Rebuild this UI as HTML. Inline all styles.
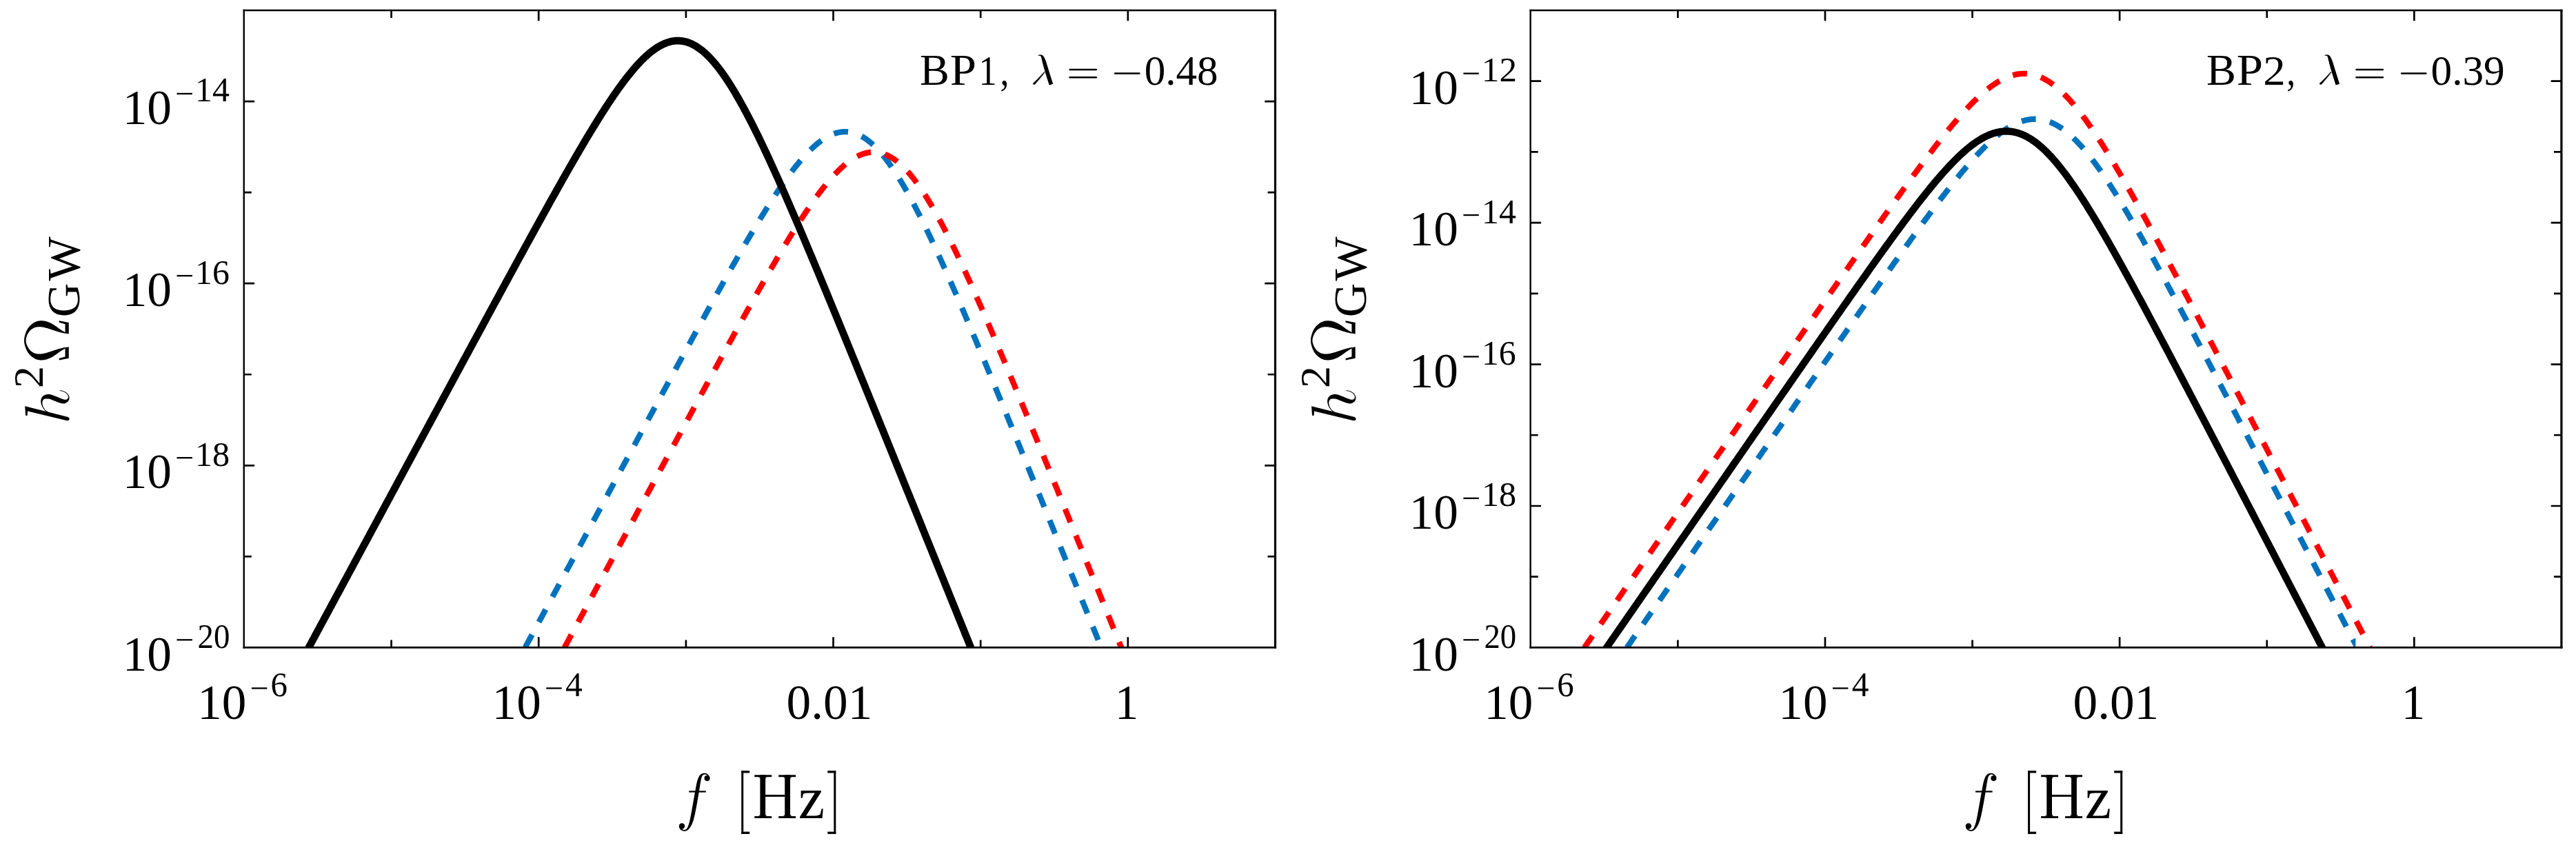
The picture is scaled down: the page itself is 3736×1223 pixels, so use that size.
<!DOCTYPE html>
<html><head><meta charset="utf-8"><title>GW spectra</title>
<style>
html,body{margin:0;padding:0;background:#fff;}
body{width:3736px;height:1223px;overflow:hidden;}
svg{display:block;}
text{font-family:"Liberation Serif",serif;fill:#000;font-kerning:none;white-space:pre;}
</style></head>
<body>
<svg width="3736" height="1223" viewBox="0 0 3736 1223">
<rect width="3736" height="1223" fill="#fff"/>
<clipPath id="c0"><rect x="353.9" y="15.0" width="1495.60" height="924.40"/></clipPath>
<g clip-path="url(#c0)" fill="none">
<path d="M761.60 939.40 L763.69 935.53 L765.78 931.65 L767.87 927.78 L769.96 923.91 L772.04 920.04 L774.13 916.16 L776.22 912.29 L778.31 908.42 L780.40 904.54 L782.49 900.67 L784.58 896.80 L786.67 892.93 L788.76 889.05 L790.84 885.18 L792.93 881.31 L795.02 877.43 L797.11 873.56 L799.20 869.69 L801.29 865.82 L803.38 861.94 L805.47 858.07 L807.56 854.20 L809.64 850.33 L811.73 846.45 L813.82 842.58 L815.91 838.71 L818.00 834.84 L820.09 830.97 L822.18 827.09 L824.27 823.22 L826.36 819.35 L828.44 815.48 L830.53 811.60 L832.62 807.73 L834.71 803.86 L836.80 799.99 L838.89 796.12 L840.98 792.25 L843.07 788.37 L845.16 784.50 L847.24 780.63 L849.33 776.76 L851.42 772.89 L853.51 769.02 L855.60 765.15 L857.69 761.28 L859.78 757.40 L861.87 753.53 L863.96 749.66 L866.04 745.79 L868.13 741.92 L870.22 738.05 L872.31 734.18 L874.40 730.31 L876.49 726.44 L878.58 722.57 L880.67 718.70 L882.76 714.83 L884.84 710.97 L886.93 707.10 L889.02 703.23 L891.11 699.36 L893.20 695.49 L895.29 691.62 L897.38 687.76 L899.47 683.89 L901.56 680.02 L903.64 676.15 L905.73 672.29 L907.82 668.42 L909.91 664.56 L912.00 660.69 L914.09 656.82 L916.18 652.96 L918.27 649.10 L920.36 645.23 L922.44 641.37 L924.53 637.50 L926.62 633.64 L928.71 629.78 L930.80 625.92 L932.89 622.06 L934.98 618.20 L937.07 614.34 L939.16 610.48 L941.24 606.62 L943.33 602.76 L945.42 598.90 L947.51 595.04 L949.60 591.19 L951.69 587.33 L953.78 583.48 L955.87 579.62 L957.96 575.77 L960.04 571.92 L962.13 568.07 L964.22 564.22 L966.31 560.37 L968.40 556.52 L970.49 552.68 L972.58 548.83 L974.67 544.99 L976.76 541.15 L978.84 537.30 L980.93 533.47 L983.02 529.63 L985.11 525.79 L987.20 521.96 L989.29 518.12 L991.38 514.29 L993.47 510.46 L995.56 506.64 L997.64 502.81 L999.73 498.99 L1001.82 495.17 L1003.91 491.35 L1006.00 487.53 L1008.09 483.72 L1010.18 479.91 L1012.27 476.10 L1014.36 472.30 L1016.44 468.50 L1018.53 464.70 L1020.62 460.91 L1022.71 457.12 L1024.80 453.33 L1026.89 449.55 L1028.98 445.77 L1031.07 441.99 L1033.16 438.22 L1035.24 434.46 L1037.33 430.70 L1039.42 426.94 L1041.51 423.19 L1043.60 419.45 L1045.69 415.71 L1047.78 411.98 L1049.87 408.25 L1051.96 404.53 L1054.04 400.82 L1056.13 397.11 L1058.22 393.42 L1060.31 389.73 L1062.40 386.04 L1064.49 382.37 L1066.58 378.71 L1068.67 375.05 L1070.75 371.41 L1072.84 367.78 L1074.93 364.15 L1077.02 360.54 L1079.11 356.94 L1081.20 353.35 L1083.29 349.77 L1085.38 346.21 L1087.47 342.66 L1089.55 339.13 L1091.64 335.61 L1093.73 332.11 L1095.82 328.62 L1097.91 325.15 L1100.00 321.69 L1102.09 318.26 L1104.18 314.84 L1106.27 311.45 L1108.35 308.08 L1110.44 304.72 L1112.53 301.39 L1114.62 298.09 L1116.71 294.80 L1118.80 291.55 L1120.89 288.32 L1122.98 285.11 L1125.07 281.94 L1127.15 278.79 L1129.24 275.68 L1131.33 272.59 L1133.42 269.54 L1135.51 266.53 L1137.60 263.55 L1139.69 260.61 L1141.78 257.70 L1143.87 254.84 L1145.95 252.01 L1148.04 249.23 L1150.13 246.50 L1152.22 243.80 L1154.31 241.16 L1156.40 238.56 L1158.49 236.02 L1160.58 233.52 L1162.67 231.08 L1164.75 228.70 L1166.84 226.37 L1168.93 224.10 L1171.02 221.89 L1173.11 219.74 L1175.20 217.65 L1177.29 215.63 L1179.38 213.68 L1181.47 211.80 L1183.55 209.99 L1185.64 208.25 L1187.73 206.58 L1189.82 204.99 L1191.91 203.48 L1194.00 202.05 L1196.09 200.70 L1198.18 199.43 L1200.27 198.25 L1202.35 197.15 L1204.44 196.14 L1206.53 195.21 L1208.62 194.38 L1210.71 193.64 L1212.80 192.99 L1214.89 192.44 L1216.98 191.98 L1219.07 191.62 L1221.15 191.35 L1223.24 191.19 L1225.33 191.12 L1227.42 191.15 L1229.51 191.28 L1231.60 191.51 L1233.69 191.84 L1235.78 192.28 L1237.87 192.81 L1239.95 193.45 L1242.04 194.19 L1244.13 195.03 L1246.22 195.97 L1248.31 197.01 L1250.40 198.16 L1252.49 199.40 L1254.58 200.75 L1256.67 202.19 L1258.75 203.73 L1260.84 205.37 L1262.93 207.10 L1265.02 208.93 L1267.11 210.86 L1269.20 212.87 L1271.29 214.98 L1273.38 217.18 L1275.47 219.47 L1277.55 221.84 L1279.64 224.31 L1281.73 226.85 L1283.82 229.48 L1285.91 232.19 L1288.00 234.98 L1290.09 237.85 L1292.18 240.79 L1294.27 243.81 L1296.35 246.90 L1298.44 250.07 L1300.53 253.30 L1302.62 256.60 L1304.71 259.96 L1306.80 263.39 L1308.89 266.88 L1310.98 270.44 L1313.07 274.05 L1315.15 277.71 L1317.24 281.44 L1319.33 285.21 L1321.42 289.04 L1323.51 292.92 L1325.60 296.85 L1327.69 300.83 L1329.78 304.85 L1331.87 308.91 L1333.95 313.02 L1336.04 317.17 L1338.13 321.36 L1340.22 325.59 L1342.31 329.85 L1344.40 334.15 L1346.49 338.49 L1348.58 342.86 L1350.67 347.26 L1352.75 351.69 L1354.84 356.15 L1356.93 360.64 L1359.02 365.16 L1361.11 369.70 L1363.20 374.27 L1365.29 378.87 L1367.38 383.48 L1369.47 388.12 L1371.55 392.79 L1373.64 397.47 L1375.73 402.17 L1377.82 406.89 L1379.91 411.64 L1382.00 416.39 L1384.09 421.17 L1386.18 425.96 L1388.27 430.77 L1390.35 435.59 L1392.44 440.43 L1394.53 445.28 L1396.62 450.15 L1398.71 455.02 L1400.80 459.91 L1402.89 464.82 L1404.98 469.73 L1407.07 474.65 L1409.15 479.59 L1411.24 484.53 L1413.33 489.48 L1415.42 494.45 L1417.51 499.42 L1419.60 504.40 L1421.69 509.38 L1423.78 514.38 L1425.87 519.38 L1427.95 524.39 L1430.04 529.41 L1432.13 534.43 L1434.22 539.46 L1436.31 544.49 L1438.40 549.53 L1440.49 554.58 L1442.58 559.63 L1444.67 564.68 L1446.75 569.75 L1448.84 574.81 L1450.93 579.88 L1453.02 584.95 L1455.11 590.03 L1457.20 595.11 L1459.29 600.20 L1461.38 605.28 L1463.47 610.38 L1465.55 615.47 L1467.64 620.57 L1469.73 625.67 L1471.82 630.77 L1473.91 635.88 L1476.00 640.99 L1478.09 646.10 L1480.18 651.21 L1482.27 656.33 L1484.35 661.45 L1486.44 666.57 L1488.53 671.69 L1490.62 676.81 L1492.71 681.94 L1494.80 687.06 L1496.89 692.19 L1498.98 697.32 L1501.07 702.46 L1503.15 707.59 L1505.24 712.72 L1507.33 717.86 L1509.42 723.00 L1511.51 728.14 L1513.60 733.28 L1515.69 738.42 L1517.78 743.56 L1519.87 748.70 L1521.95 753.84 L1524.04 758.99 L1526.13 764.13 L1528.22 769.28 L1530.31 774.43 L1532.40 779.57 L1534.49 784.72 L1536.58 789.87 L1538.67 795.02 L1540.75 800.17 L1542.84 805.32 L1544.93 810.48 L1547.02 815.63 L1549.11 820.78 L1551.20 825.93 L1553.29 831.09 L1555.38 836.24 L1557.47 841.40 L1559.55 846.55 L1561.64 851.71 L1563.73 856.86 L1565.82 862.02 L1567.91 867.18 L1570.00 872.33 L1572.09 877.49 L1574.18 882.65 L1576.27 887.81 L1578.35 892.97 L1580.44 898.12 L1582.53 903.28 L1584.62 908.44 L1586.71 913.60 L1588.80 918.76 L1590.89 923.92 L1592.98 929.08 L1595.07 934.24 L1597.15 939.40" stroke="#0072bd" stroke-width="8.3" stroke-dasharray="20.9 20.755" stroke-dashoffset="41.45" stroke-linejoin="round"/>
<path d="M818.65 939.40 L820.67 935.66 L822.69 931.91 L824.71 928.17 L826.73 924.43 L828.74 920.68 L830.76 916.94 L832.78 913.20 L834.80 909.45 L836.82 905.71 L838.84 901.97 L840.86 898.23 L842.88 894.48 L844.90 890.74 L846.92 887.00 L848.93 883.25 L850.95 879.51 L852.97 875.77 L854.99 872.03 L857.01 868.28 L859.03 864.54 L861.05 860.80 L863.07 857.05 L865.09 853.31 L867.11 849.57 L869.12 845.83 L871.14 842.08 L873.16 838.34 L875.18 834.60 L877.20 830.86 L879.22 827.12 L881.24 823.37 L883.26 819.63 L885.28 815.89 L887.30 812.15 L889.31 808.41 L891.33 804.66 L893.35 800.92 L895.37 797.18 L897.39 793.44 L899.41 789.70 L901.43 785.96 L903.45 782.22 L905.47 778.47 L907.49 774.73 L909.50 770.99 L911.52 767.25 L913.54 763.51 L915.56 759.77 L917.58 756.03 L919.60 752.29 L921.62 748.55 L923.64 744.81 L925.66 741.07 L927.67 737.33 L929.69 733.59 L931.71 729.85 L933.73 726.12 L935.75 722.38 L937.77 718.64 L939.79 714.90 L941.81 711.16 L943.83 707.43 L945.85 703.69 L947.86 699.95 L949.88 696.21 L951.90 692.48 L953.92 688.74 L955.94 685.01 L957.96 681.27 L959.98 677.54 L962.00 673.80 L964.02 670.07 L966.04 666.33 L968.05 662.60 L970.07 658.87 L972.09 655.13 L974.11 651.40 L976.13 647.67 L978.15 643.94 L980.17 640.21 L982.19 636.48 L984.21 632.75 L986.23 629.02 L988.24 625.29 L990.26 621.57 L992.28 617.84 L994.30 614.11 L996.32 610.39 L998.34 606.67 L1000.36 602.94 L1002.38 599.22 L1004.40 595.50 L1006.42 591.78 L1008.43 588.06 L1010.45 584.34 L1012.47 580.62 L1014.49 576.91 L1016.51 573.19 L1018.53 569.48 L1020.55 565.77 L1022.57 562.06 L1024.59 558.35 L1026.60 554.64 L1028.62 550.93 L1030.64 547.23 L1032.66 543.53 L1034.68 539.83 L1036.70 536.13 L1038.72 532.43 L1040.74 528.74 L1042.76 525.04 L1044.78 521.35 L1046.79 517.66 L1048.81 513.98 L1050.83 510.30 L1052.85 506.61 L1054.87 502.94 L1056.89 499.26 L1058.91 495.59 L1060.93 491.92 L1062.95 488.26 L1064.97 484.60 L1066.98 480.94 L1069.00 477.28 L1071.02 473.63 L1073.04 469.99 L1075.06 466.34 L1077.08 462.71 L1079.10 459.07 L1081.12 455.45 L1083.14 451.82 L1085.16 448.20 L1087.17 444.59 L1089.19 440.99 L1091.21 437.39 L1093.23 433.79 L1095.25 430.20 L1097.27 426.62 L1099.29 423.05 L1101.31 419.48 L1103.33 415.92 L1105.35 412.37 L1107.36 408.83 L1109.38 405.30 L1111.40 401.77 L1113.42 398.26 L1115.44 394.75 L1117.46 391.26 L1119.48 387.78 L1121.50 384.30 L1123.52 380.84 L1125.53 377.39 L1127.55 373.96 L1129.57 370.53 L1131.59 367.12 L1133.61 363.73 L1135.63 360.35 L1137.65 356.98 L1139.67 353.64 L1141.69 350.30 L1143.71 346.99 L1145.72 343.69 L1147.74 340.42 L1149.76 337.16 L1151.78 333.92 L1153.80 330.70 L1155.82 327.51 L1157.84 324.34 L1159.86 321.19 L1161.88 318.07 L1163.90 314.97 L1165.91 311.90 L1167.93 308.85 L1169.95 305.84 L1171.97 302.85 L1173.99 299.90 L1176.01 296.98 L1178.03 294.09 L1180.05 291.23 L1182.07 288.41 L1184.09 285.62 L1186.10 282.88 L1188.12 280.17 L1190.14 277.50 L1192.16 274.88 L1194.18 272.30 L1196.20 269.76 L1198.22 267.27 L1200.24 264.82 L1202.26 262.43 L1204.28 260.08 L1206.29 257.79 L1208.31 255.55 L1210.33 253.37 L1212.35 251.24 L1214.37 249.17 L1216.39 247.16 L1218.41 245.21 L1220.43 243.32 L1222.45 241.50 L1224.46 239.74 L1226.48 238.06 L1228.50 236.44 L1230.52 234.89 L1232.54 233.41 L1234.56 232.01 L1236.58 230.68 L1238.60 229.43 L1240.62 228.26 L1242.64 227.17 L1244.65 226.16 L1246.67 225.23 L1248.69 224.39 L1250.71 223.63 L1252.73 222.95 L1254.75 222.37 L1256.77 221.87 L1258.79 221.46 L1260.81 221.14 L1262.83 220.91 L1264.84 220.77 L1266.86 220.73 L1268.88 220.78 L1270.90 220.92 L1272.92 221.16 L1274.94 221.49 L1276.96 221.92 L1278.98 222.44 L1281.00 223.05 L1283.02 223.76 L1285.03 224.57 L1287.05 225.47 L1289.07 226.47 L1291.09 227.56 L1293.11 228.74 L1295.13 230.01 L1297.15 231.38 L1299.17 232.84 L1301.19 234.40 L1303.21 236.04 L1305.22 237.77 L1307.24 239.59 L1309.26 241.50 L1311.28 243.49 L1313.30 245.57 L1315.32 247.73 L1317.34 249.98 L1319.36 252.30 L1321.38 254.71 L1323.39 257.20 L1325.41 259.76 L1327.43 262.40 L1329.45 265.11 L1331.47 267.89 L1333.49 270.75 L1335.51 273.67 L1337.53 276.66 L1339.55 279.72 L1341.57 282.85 L1343.58 286.03 L1345.60 289.28 L1347.62 292.59 L1349.64 295.95 L1351.66 299.38 L1353.68 302.86 L1355.70 306.39 L1357.72 309.97 L1359.74 313.61 L1361.76 317.29 L1363.77 321.02 L1365.79 324.80 L1367.81 328.62 L1369.83 332.49 L1371.85 336.40 L1373.87 340.35 L1375.89 344.33 L1377.91 348.36 L1379.93 352.42 L1381.95 356.52 L1383.96 360.65 L1385.98 364.82 L1388.00 369.02 L1390.02 373.24 L1392.04 377.50 L1394.06 381.79 L1396.08 386.10 L1398.10 390.44 L1400.12 394.81 L1402.14 399.20 L1404.15 403.62 L1406.17 408.06 L1408.19 412.52 L1410.21 417.00 L1412.23 421.50 L1414.25 426.02 L1416.27 430.57 L1418.29 435.13 L1420.31 439.70 L1422.32 444.30 L1424.34 448.91 L1426.36 453.53 L1428.38 458.17 L1430.40 462.83 L1432.42 467.50 L1434.44 472.18 L1436.46 476.87 L1438.48 481.58 L1440.50 486.30 L1442.51 491.03 L1444.53 495.77 L1446.55 500.52 L1448.57 505.28 L1450.59 510.05 L1452.61 514.83 L1454.63 519.62 L1456.65 524.42 L1458.67 529.22 L1460.69 534.03 L1462.70 538.85 L1464.72 543.68 L1466.74 548.52 L1468.76 553.36 L1470.78 558.21 L1472.80 563.06 L1474.82 567.92 L1476.84 572.78 L1478.86 577.65 L1480.88 582.53 L1482.89 587.41 L1484.91 592.29 L1486.93 597.18 L1488.95 602.08 L1490.97 606.97 L1492.99 611.87 L1495.01 616.78 L1497.03 621.69 L1499.05 626.60 L1501.07 631.52 L1503.08 636.44 L1505.10 641.36 L1507.12 646.28 L1509.14 651.21 L1511.16 656.14 L1513.18 661.07 L1515.20 666.01 L1517.22 670.95 L1519.24 675.89 L1521.25 680.83 L1523.27 685.78 L1525.29 690.72 L1527.31 695.67 L1529.33 700.62 L1531.35 705.57 L1533.37 710.53 L1535.39 715.48 L1537.41 720.44 L1539.43 725.40 L1541.44 730.36 L1543.46 735.32 L1545.48 740.28 L1547.50 745.24 L1549.52 750.21 L1551.54 755.17 L1553.56 760.14 L1555.58 765.11 L1557.60 770.08 L1559.62 775.05 L1561.63 780.02 L1563.65 784.99 L1565.67 789.96 L1567.69 794.94 L1569.71 799.91 L1571.73 804.89 L1573.75 809.86 L1575.77 814.84 L1577.79 819.82 L1579.81 824.79 L1581.82 829.77 L1583.84 834.75 L1585.86 839.73 L1587.88 844.71 L1589.90 849.69 L1591.92 854.67 L1593.94 859.65 L1595.96 864.63 L1597.98 869.62 L1600.00 874.60 L1602.01 879.58 L1604.03 884.56 L1606.05 889.55 L1608.07 894.53 L1610.09 899.52 L1612.11 904.50 L1614.13 909.49 L1616.15 914.47 L1618.17 919.46 L1620.18 924.44 L1622.20 929.43 L1624.22 934.41 L1626.24 939.40" stroke="#ff0000" stroke-width="8.3" stroke-dasharray="20.9 20.755" stroke-dashoffset="41.45" stroke-linejoin="round"/>
<path d="M430.71 971.09 L433.19 966.48 L435.68 961.87 L438.17 957.26 L440.65 952.66 L443.14 948.05 L445.62 943.44 L448.11 938.83 L450.59 934.22 L453.08 929.61 L455.57 925.00 L458.05 920.39 L460.54 915.78 L463.02 911.17 L465.51 906.56 L468.00 901.95 L470.48 897.34 L472.97 892.73 L475.45 888.12 L477.94 883.51 L480.43 878.91 L482.91 874.30 L485.40 869.69 L487.88 865.08 L490.37 860.47 L492.86 855.86 L495.34 851.25 L497.83 846.64 L500.31 842.03 L502.80 837.42 L505.28 832.81 L507.77 828.20 L510.26 823.59 L512.74 818.99 L515.23 814.38 L517.71 809.77 L520.20 805.16 L522.69 800.55 L525.17 795.94 L527.66 791.33 L530.14 786.72 L532.63 782.11 L535.12 777.50 L537.60 772.89 L540.09 768.29 L542.57 763.68 L545.06 759.07 L547.55 754.46 L550.03 749.85 L552.52 745.24 L555.00 740.63 L557.49 736.02 L559.98 731.42 L562.46 726.81 L564.95 722.20 L567.43 717.59 L569.92 712.98 L572.40 708.37 L574.89 703.76 L577.38 699.16 L579.86 694.55 L582.35 689.94 L584.83 685.33 L587.32 680.72 L589.81 676.12 L592.29 671.51 L594.78 666.90 L597.26 662.29 L599.75 657.69 L602.24 653.08 L604.72 648.47 L607.21 643.86 L609.69 639.26 L612.18 634.65 L614.67 630.04 L617.15 625.44 L619.64 620.83 L622.12 616.22 L624.61 611.62 L627.09 607.01 L629.58 602.41 L632.07 597.80 L634.55 593.20 L637.04 588.59 L639.52 583.99 L642.01 579.38 L644.50 574.78 L646.98 570.17 L649.47 565.57 L651.95 560.97 L654.44 556.36 L656.93 551.76 L659.41 547.16 L661.90 542.56 L664.38 537.96 L666.87 533.36 L669.36 528.76 L671.84 524.16 L674.33 519.56 L676.81 514.96 L679.30 510.36 L681.79 505.76 L684.27 501.16 L686.76 496.57 L689.24 491.97 L691.73 487.38 L694.21 482.78 L696.70 478.19 L699.19 473.60 L701.67 469.01 L704.16 464.42 L706.64 459.83 L709.13 455.24 L711.62 450.65 L714.10 446.07 L716.59 441.48 L719.07 436.90 L721.56 432.32 L724.05 427.74 L726.53 423.16 L729.02 418.58 L731.50 414.01 L733.99 409.43 L736.48 404.86 L738.96 400.29 L741.45 395.73 L743.93 391.16 L746.42 386.60 L748.90 382.04 L751.39 377.49 L753.88 372.93 L756.36 368.38 L758.85 363.83 L761.33 359.29 L763.82 354.75 L766.31 350.21 L768.79 345.68 L771.28 341.15 L773.76 336.63 L776.25 332.11 L778.74 327.59 L781.22 323.08 L783.71 318.58 L786.19 314.08 L788.68 309.59 L791.17 305.11 L793.65 300.63 L796.14 296.15 L798.62 291.69 L801.11 287.23 L803.59 282.79 L806.08 278.35 L808.57 273.92 L811.05 269.50 L813.54 265.09 L816.02 260.69 L818.51 256.30 L821.00 251.92 L823.48 247.56 L825.97 243.21 L828.45 238.87 L830.94 234.55 L833.43 230.24 L835.91 225.95 L838.40 221.68 L840.88 217.42 L843.37 213.19 L845.86 208.97 L848.34 204.77 L850.83 200.60 L853.31 196.45 L855.80 192.32 L858.29 188.22 L860.77 184.14 L863.26 180.10 L865.74 176.08 L868.23 172.09 L870.71 168.13 L873.20 164.21 L875.69 160.33 L878.17 156.48 L880.66 152.67 L883.14 148.89 L885.63 145.17 L888.12 141.48 L890.60 137.85 L893.09 134.26 L895.57 130.72 L898.06 127.23 L900.55 123.80 L903.03 120.43 L905.52 117.12 L908.00 113.87 L910.49 110.68 L912.98 107.56 L915.46 104.51 L917.95 101.54 L920.43 98.64 L922.92 95.82 L925.40 93.08 L927.89 90.42 L930.38 87.85 L932.86 85.38 L935.35 82.99 L937.83 80.70 L940.32 78.51 L942.81 76.42 L945.29 74.44 L947.78 72.56 L950.26 70.80 L952.75 69.15 L955.24 67.61 L957.72 66.20 L960.21 64.90 L962.69 63.73 L965.18 62.69 L967.67 61.77 L970.15 60.99 L972.64 60.34 L975.12 59.82 L977.61 59.44 L980.10 59.20 L982.58 59.10 L985.07 59.14 L987.55 59.32 L990.04 59.64 L992.52 60.11 L995.01 60.72 L997.50 61.47 L999.98 62.37 L1002.47 63.42 L1004.95 64.60 L1007.44 65.93 L1009.93 67.40 L1012.41 69.02 L1014.90 70.77 L1017.38 72.66 L1019.87 74.69 L1022.36 76.85 L1024.84 79.15 L1027.33 81.57 L1029.81 84.13 L1032.30 86.81 L1034.79 89.62 L1037.27 92.55 L1039.76 95.60 L1042.24 98.77 L1044.73 102.05 L1047.21 105.44 L1049.70 108.94 L1052.19 112.55 L1054.67 116.26 L1057.16 120.07 L1059.64 123.97 L1062.13 127.97 L1064.62 132.06 L1067.10 136.23 L1069.59 140.50 L1072.07 144.84 L1074.56 149.26 L1077.05 153.76 L1079.53 158.33 L1082.02 162.97 L1084.50 167.68 L1086.99 172.46 L1089.48 177.30 L1091.96 182.19 L1094.45 187.15 L1096.93 192.16 L1099.42 197.23 L1101.90 202.34 L1104.39 207.51 L1106.88 212.72 L1109.36 217.98 L1111.85 223.28 L1114.33 228.62 L1116.82 234.00 L1119.31 239.41 L1121.79 244.86 L1124.28 250.35 L1126.76 255.87 L1129.25 261.42 L1131.74 267.00 L1134.22 272.60 L1136.71 278.24 L1139.19 283.90 L1141.68 289.58 L1144.17 295.29 L1146.65 301.02 L1149.14 306.77 L1151.62 312.54 L1154.11 318.32 L1156.60 324.13 L1159.08 329.95 L1161.57 335.79 L1164.05 341.65 L1166.54 347.52 L1169.02 353.41 L1171.51 359.30 L1174.00 365.21 L1176.48 371.14 L1178.97 377.07 L1181.45 383.01 L1183.94 388.97 L1186.43 394.93 L1188.91 400.91 L1191.40 406.89 L1193.88 412.88 L1196.37 418.88 L1198.86 424.89 L1201.34 430.90 L1203.83 436.92 L1206.31 442.95 L1208.80 448.99 L1211.29 455.02 L1213.77 461.07 L1216.26 467.12 L1218.74 473.17 L1221.23 479.23 L1223.71 485.30 L1226.20 491.37 L1228.69 497.44 L1231.17 503.52 L1233.66 509.60 L1236.14 515.68 L1238.63 521.76 L1241.12 527.85 L1243.60 533.95 L1246.09 540.04 L1248.57 546.14 L1251.06 552.24 L1253.55 558.34 L1256.03 564.45 L1258.52 570.56 L1261.00 576.66 L1263.49 582.78 L1265.98 588.89 L1268.46 595.00 L1270.95 601.12 L1273.43 607.24 L1275.92 613.36 L1278.41 619.48 L1280.89 625.60 L1283.38 631.72 L1285.86 637.85 L1288.35 643.97 L1290.83 650.10 L1293.32 656.23 L1295.81 662.36 L1298.29 668.49 L1300.78 674.62 L1303.26 680.75 L1305.75 686.88 L1308.24 693.01 L1310.72 699.14 L1313.21 705.28 L1315.69 711.41 L1318.18 717.55 L1320.67 723.68 L1323.15 729.82 L1325.64 735.96 L1328.12 742.09 L1330.61 748.23 L1333.10 754.37 L1335.58 760.51 L1338.07 766.65 L1340.55 772.79 L1343.04 778.93 L1345.52 785.07 L1348.01 791.21 L1350.50 797.35 L1352.98 803.49 L1355.47 809.63 L1357.95 815.77 L1360.44 821.91 L1362.93 828.06 L1365.41 834.20 L1367.90 840.34 L1370.38 846.48 L1372.87 852.62 L1375.36 858.77 L1377.84 864.91 L1380.33 871.05 L1382.81 877.20 L1385.30 883.34 L1387.79 889.48 L1390.27 895.63 L1392.76 901.77 L1395.24 907.92 L1397.73 914.06 L1400.22 920.20 L1402.70 926.35 L1405.19 932.49 L1407.67 938.64 L1410.16 944.78 L1412.64 950.93 L1415.13 957.07 L1417.62 963.22 L1420.10 969.36 L1422.59 975.50 L1425.07 981.65" stroke="#000" stroke-width="10.7" stroke-linejoin="round"/>
</g>
<path d="M353.75 13.83V940.83" stroke="#000" stroke-width="2.4" fill="none"/>
<path d="M1849.50 13.83V940.83" stroke="#000" stroke-width="3.2" fill="none"/>
<path d="M352.55 15.05H1851.10" stroke="#000" stroke-width="2.45" fill="none"/>
<path d="M352.55 939.35H1851.10" stroke="#000" stroke-width="2.95" fill="none"/>
<path d="M567.56 939.4 v-10.9 M567.56 15.0 v10.9 M781.21 939.4 v-15.2 M781.21 15.0 v15.2 M994.87 939.4 v-10.9 M994.87 15.0 v10.9 M1208.53 939.4 v-15.2 M1208.53 15.0 v15.2 M1422.19 939.4 v-10.9 M1422.19 15.0 v10.9 M1635.84 939.4 v-15.2 M1635.84 15.0 v15.2 M353.9 807.34 h10.9 M1849.5 807.34 h-10.9 M353.9 675.29 h15.2 M1849.5 675.29 h-15.2 M353.9 543.23 h10.9 M1849.5 543.23 h-10.9 M353.9 411.17 h15.2 M1849.5 411.17 h-15.2 M353.9 279.11 h10.9 M1849.5 279.11 h-10.9 M353.9 147.06 h15.2 M1849.5 147.06 h-15.2" stroke="#000" stroke-width="2.7" fill="none"/>
<text transform="translate(177.63,180.26) scale(0.9964,1.0000)" font-size="71.65">10</text>
<rect x="256.50" y="134.81" width="22.40" height="2.30"/>
<text transform="translate(283.01,147.46) scale(0.9789,1.0000)" font-size="51.05">14</text>
<text transform="translate(177.63,444.37) scale(0.9964,1.0000)" font-size="71.65">10</text>
<rect x="256.50" y="398.92" width="22.40" height="2.30"/>
<text transform="translate(283.03,411.57) scale(0.9747,1.0000)" font-size="51.05">16</text>
<text transform="translate(177.63,708.49) scale(0.9964,1.0000)" font-size="71.65">10</text>
<rect x="256.50" y="663.04" width="22.40" height="2.30"/>
<text transform="translate(282.99,675.69) scale(0.9839,1.0000)" font-size="51.05">18</text>
<text transform="translate(177.63,972.60) scale(0.9964,1.0000)" font-size="71.65">10</text>
<rect x="256.50" y="927.15" width="22.40" height="2.30"/>
<text transform="translate(286.54,939.80) scale(0.9176,1.0000)" font-size="51.05">20</text>
<text transform="translate(286.25,1042.80) scale(0.9932,1.0000)" font-size="71.65">10</text>
<rect x="364.90" y="997.35" width="22.40" height="2.30"/>
<text transform="translate(392.40,1010.00) scale(0.9583,1.0000)" font-size="51.05">6</text>
<text transform="translate(713.56,1042.80) scale(0.9932,1.0000)" font-size="71.65">10</text>
<rect x="792.21" y="997.35" width="22.40" height="2.30"/>
<text transform="translate(820.05,1010.00) scale(0.9693,1.0000)" font-size="51.05">4</text>
<text transform="translate(1140.58,1042.60) scale(0.9953,1.0000)" font-size="71.65">0.01</text>
<text transform="translate(1616.73,1042.60) scale(0.9634,1.0000)" font-size="71.65">1</text>
<path d="M1029.27 1127.40 L1029.16 1127.23 L1029.03 1127.02 L1028.88 1126.76 L1028.71 1126.45 L1028.51 1126.11 L1028.30 1125.74 L1028.07 1125.36 L1027.83 1124.97 L1027.57 1124.59 L1027.30 1124.21 L1027.00 1123.84 L1026.69 1123.50 L1026.36 1123.19 L1026.00 1122.92 L1025.64 1122.70 L1025.28 1122.51 L1024.89 1122.34 L1024.50 1122.19 L1024.09 1122.06 L1023.67 1121.95 L1023.25 1121.85 L1022.82 1121.78 L1022.39 1121.72 L1021.96 1121.69 L1021.52 1121.67 L1021.09 1121.68 L1020.67 1121.71 L1020.25 1121.77 L1019.86 1121.84 L1019.46 1121.92 L1019.07 1122.03 L1018.66 1122.15 L1018.26 1122.30 L1017.85 1122.48 L1017.44 1122.68 L1017.03 1122.92 L1016.63 1123.19 L1016.23 1123.49 L1015.84 1123.83 L1015.46 1124.21 L1015.09 1124.62 L1014.74 1125.07 L1014.41 1125.54 L1014.09 1126.04 L1013.79 1126.56 L1013.50 1127.10 L1013.22 1127.67 L1012.96 1128.26 L1012.70 1128.87 L1012.45 1129.50 L1012.21 1130.16 L1011.97 1130.84 L1011.73 1131.55 L1011.50 1132.28 L1011.28 1133.04 L1011.05 1133.84 L1010.82 1134.68 L1010.60 1135.56 L1010.39 1136.47 L1010.19 1137.40 L1009.99 1138.36 L1009.80 1139.34 L1009.60 1140.35 L1009.41 1141.38 L1009.22 1142.43 L1009.03 1143.50 L1008.84 1144.58 L1008.64 1145.68 L1008.43 1146.80 L1008.22 1147.93 L1008.00 1149.10 L1007.78 1150.31 L1007.55 1151.55 L1007.32 1152.82 L1007.08 1154.12 L1006.85 1155.43 L1006.61 1156.76 L1006.37 1158.10 L1006.13 1159.45 L1005.89 1160.80 L1005.65 1162.14 L1005.41 1163.48 L1005.17 1164.80 L1004.94 1166.11 L1004.70 1167.43 L1004.46 1168.77 L1004.22 1170.14 L1003.98 1171.52 L1003.73 1172.90 L1003.49 1174.28 L1003.25 1175.65 L1003.01 1177.00 L1002.78 1178.32 L1002.54 1179.61 L1002.32 1180.85 L1002.09 1182.04 L1001.87 1183.17 L1001.66 1184.24 L1001.46 1185.26 L1001.26 1186.24 L1001.07 1187.16 L1000.89 1188.05 L1000.71 1188.89 L1000.53 1189.70 L1000.36 1190.48 L1000.19 1191.22 L1000.01 1191.94 L999.84 1192.63 L999.66 1193.30 L999.48 1193.96 L999.29 1194.61 L999.09 1195.24 L998.89 1195.87 L998.69 1196.48 L998.48 1197.07 L998.27 1197.65 L998.05 1198.22 L997.83 1198.76 L997.61 1199.28 L997.39 1199.78 L997.16 1200.26 L996.93 1200.71 L996.69 1201.13 L996.46 1201.53 L996.22 1201.89 L995.98 1202.21 L995.75 1202.49 L995.52 1202.73 L995.29 1202.95 L995.06 1203.13 L994.82 1203.29 L994.58 1203.43 L994.34 1203.55 L994.09 1203.65 L993.83 1203.73 L993.57 1203.80 L993.31 1203.85 L993.03 1203.89 L992.75 1203.92 L992.48 1203.95 L992.21 1203.96 L991.94 1203.95 L991.65 1203.92 L991.35 1203.87 L991.04 1203.80 L990.73 1203.71 L990.42 1203.61 L990.11 1203.49 L989.81 1203.37 L989.52 1203.23 L989.24 1203.09 L988.97 1202.94 L988.73 1202.79 L988.51 1202.64 L988.32 1202.50 L988.14 1202.32 L987.96 1202.12 L987.77 1201.89 L987.60 1201.64 L987.42 1201.38 L987.26 1201.11 L987.10 1200.84 L986.95 1200.58 L986.81 1200.32 L986.68 1200.08 L986.56 1199.86 L986.44 1199.66 L986.33 1199.50 L984.93 1200.42 L985.01 1200.54 L985.10 1200.69 L985.21 1200.90 L985.34 1201.13 L985.49 1201.39 L985.65 1201.68 L985.83 1201.97 L986.02 1202.28 L986.22 1202.59 L986.44 1202.90 L986.68 1203.20 L986.94 1203.49 L987.22 1203.76 L987.51 1204.00 L987.81 1204.20 L988.11 1204.39 L988.43 1204.57 L988.77 1204.75 L989.11 1204.92 L989.47 1205.07 L989.84 1205.22 L990.21 1205.35 L990.59 1205.47 L990.97 1205.57 L991.36 1205.65 L991.75 1205.72 L992.13 1205.76 L992.51 1205.77 L992.86 1205.77 L993.21 1205.75 L993.56 1205.72 L993.92 1205.68 L994.29 1205.61 L994.65 1205.53 L995.03 1205.42 L995.40 1205.29 L995.78 1205.13 L996.16 1204.94 L996.54 1204.72 L996.92 1204.47 L997.31 1204.18 L997.69 1203.87 L998.07 1203.53 L998.45 1203.17 L998.83 1202.78 L999.22 1202.37 L999.61 1201.93 L1000.01 1201.46 L1000.40 1200.97 L1000.79 1200.45 L1001.18 1199.90 L1001.56 1199.34 L1001.93 1198.74 L1002.29 1198.13 L1002.64 1197.49 L1002.98 1196.83 L1003.30 1196.16 L1003.61 1195.47 L1003.91 1194.78 L1004.20 1194.06 L1004.48 1193.33 L1004.76 1192.57 L1005.02 1191.79 L1005.29 1190.99 L1005.55 1190.15 L1005.81 1189.28 L1006.06 1188.38 L1006.32 1187.44 L1006.59 1186.45 L1006.85 1185.42 L1007.13 1184.32 L1007.40 1183.16 L1007.67 1181.94 L1007.95 1180.68 L1008.22 1179.37 L1008.49 1178.04 L1008.77 1176.68 L1009.04 1175.31 L1009.30 1173.93 L1009.57 1172.54 L1009.83 1171.16 L1010.08 1169.80 L1010.34 1168.46 L1010.58 1167.14 L1010.83 1165.83 L1011.07 1164.50 L1011.31 1163.15 L1011.55 1161.80 L1011.79 1160.45 L1012.02 1159.10 L1012.25 1157.75 L1012.48 1156.42 L1012.70 1155.10 L1012.92 1153.80 L1013.13 1152.53 L1013.34 1151.29 L1013.54 1150.08 L1013.74 1148.90 L1013.93 1147.75 L1014.11 1146.61 L1014.29 1145.49 L1014.46 1144.40 L1014.62 1143.32 L1014.78 1142.27 L1014.93 1141.25 L1015.08 1140.26 L1015.23 1139.30 L1015.37 1138.36 L1015.52 1137.47 L1015.66 1136.61 L1015.81 1135.78 L1015.96 1134.99 L1016.10 1134.21 L1016.25 1133.46 L1016.38 1132.75 L1016.51 1132.06 L1016.64 1131.41 L1016.77 1130.79 L1016.89 1130.21 L1017.02 1129.65 L1017.15 1129.13 L1017.28 1128.63 L1017.42 1128.17 L1017.56 1127.73 L1017.71 1127.33 L1017.86 1126.95 L1018.02 1126.60 L1018.18 1126.28 L1018.35 1125.97 L1018.52 1125.69 L1018.70 1125.43 L1018.89 1125.19 L1019.09 1124.96 L1019.29 1124.75 L1019.51 1124.55 L1019.74 1124.37 L1019.98 1124.20 L1020.23 1124.05 L1020.49 1123.92 L1020.76 1123.81 L1021.02 1123.72 L1021.30 1123.65 L1021.61 1123.60 L1021.93 1123.58 L1022.26 1123.58 L1022.60 1123.59 L1022.94 1123.63 L1023.28 1123.69 L1023.62 1123.76 L1023.95 1123.85 L1024.27 1123.96 L1024.57 1124.08 L1024.85 1124.20 L1025.09 1124.33 L1025.31 1124.48 L1025.54 1124.68 L1025.78 1124.92 L1026.02 1125.20 L1026.27 1125.52 L1026.50 1125.85 L1026.73 1126.20 L1026.95 1126.55 L1027.16 1126.90 L1027.35 1127.23 L1027.53 1127.54 L1027.70 1127.82 L1027.86 1128.07 L1027.99 1128.26Z"/>
<path d="M1021.48 1129.09a4.06 4.06 0 1 0 8.12 0a4.06 4.06 0 1 0 -8.12 0Z"/>
<path d="M984.79 1198.56a4.20 4.20 0 1 0 8.40 0a4.20 4.20 0 1 0 -8.40 0Z"/>
<path d="M999.22 1147.30H1023.73V1149.54H999.22Z"/>
<rect x="1102.40" y="1124.30" width="7.70" height="62.70"/>
<rect x="1094.30" y="1124.30" width="24.90" height="2.90"/>
<rect x="1094.30" y="1184.10" width="24.90" height="2.90"/>
<path d="M1099.20 1127.20Q1102.40 1127.20 1102.40 1131.20V1127.20Z"/>
<path d="M1113.30 1127.20Q1110.10 1127.20 1110.10 1131.20V1127.20Z"/>
<path d="M1099.20 1184.10Q1102.40 1184.10 1102.40 1180.10V1184.10Z"/>
<path d="M1113.30 1184.10Q1110.10 1184.10 1110.10 1180.10V1184.10Z"/>
<rect x="1138.20" y="1124.30" width="7.80" height="62.70"/>
<rect x="1129.20" y="1124.30" width="24.90" height="2.90"/>
<rect x="1129.20" y="1184.10" width="24.90" height="2.90"/>
<path d="M1135.00 1127.20Q1138.20 1127.20 1138.20 1131.20V1127.20Z"/>
<path d="M1149.20 1127.20Q1146.00 1127.20 1146.00 1131.20V1127.20Z"/>
<path d="M1135.00 1184.10Q1138.20 1184.10 1138.20 1180.10V1184.10Z"/>
<path d="M1149.20 1184.10Q1146.00 1184.10 1146.00 1180.10V1184.10Z"/>
<rect x="1110.00" y="1153.00" width="28.30" height="2.90"/>
<text transform="translate(1157.78,1187.10) scale(0.9982,1.0000)" font-size="86.50">z</text>
<rect x="1075.20" y="1118.10" width="3.00" height="91.80"/>
<rect x="1075.20" y="1118.10" width="12.00" height="3.30"/>
<rect x="1075.20" y="1206.60" width="12.00" height="3.30"/>
<rect x="1209.30" y="1118.10" width="3.00" height="91.80"/>
<rect x="1200.30" y="1118.10" width="12.00" height="3.30"/>
<rect x="1200.30" y="1206.60" width="12.00" height="3.30"/>
<path d="M71.98 598.75 L71.76 598.63 L71.48 598.49 L71.16 598.34 L70.81 598.17 L70.43 597.98 L70.03 597.78 L69.61 597.57 L69.18 597.35 L68.75 597.12 L68.33 596.87 L67.92 596.62 L67.54 596.37 L67.18 596.11 L66.86 595.84 L66.55 595.56 L66.25 595.27 L65.94 594.95 L65.65 594.63 L65.36 594.29 L65.07 593.94 L64.79 593.59 L64.52 593.23 L64.26 592.86 L64.01 592.49 L63.77 592.12 L63.55 591.75 L63.33 591.39 L63.14 591.03 L62.95 590.67 L62.78 590.31 L62.61 589.94 L62.46 589.57 L62.32 589.20 L62.19 588.83 L62.06 588.45 L61.95 588.08 L61.85 587.71 L61.76 587.34 L61.68 586.98 L61.61 586.62 L61.55 586.27 L61.50 585.92 L61.46 585.59 L61.42 585.26 L61.40 584.93 L61.39 584.62 L61.38 584.30 L61.39 584.00 L61.40 583.70 L61.43 583.41 L61.47 583.12 L61.51 582.84 L61.57 582.57 L61.64 582.31 L61.72 582.06 L61.81 581.81 L61.92 581.55 L62.04 581.30 L62.16 581.05 L62.30 580.81 L62.44 580.58 L62.60 580.35 L62.76 580.14 L62.92 579.94 L63.09 579.76 L63.27 579.59 L63.44 579.44 L63.61 579.31 L63.79 579.20 L63.96 579.11 L64.14 579.02 L64.34 578.93 L64.55 578.85 L64.77 578.78 L65.00 578.71 L65.24 578.65 L65.48 578.60 L65.73 578.55 L65.98 578.52 L66.23 578.48 L66.49 578.45 L66.75 578.43 L67.01 578.42 L67.28 578.40 L67.57 578.39 L67.86 578.38 L68.16 578.38 L68.46 578.38 L68.76 578.38 L69.08 578.40 L69.39 578.42 L69.71 578.44 L70.04 578.48 L70.37 578.52 L70.71 578.57 L71.05 578.64 L71.40 578.71 L71.74 578.79 L72.08 578.88 L72.45 578.99 L72.84 579.12 L73.27 579.27 L73.72 579.44 L74.19 579.62 L74.67 579.81 L75.17 580.01 L75.69 580.22 L76.21 580.44 L76.74 580.66 L77.28 580.88 L77.83 581.10 L78.36 581.30 L78.86 581.50 L79.36 581.70 L79.86 581.90 L80.38 582.11 L80.90 582.33 L81.42 582.55 L81.95 582.77 L82.49 582.99 L83.02 583.21 L83.56 583.42 L84.10 583.62 L84.64 583.81 L85.18 584.00 L85.69 584.16 L86.17 584.30 L86.63 584.44 L87.09 584.58 L87.56 584.72 L88.03 584.85 L88.51 584.98 L88.99 585.09 L89.48 585.20 L89.98 585.29 L90.48 585.37 L91.00 585.43 L91.52 585.46 L92.05 585.47 L92.58 585.45 L93.10 585.39 L93.60 585.30 L94.08 585.19 L94.55 585.05 L95.00 584.88 L95.44 584.70 L95.85 584.50 L96.25 584.29 L96.63 584.06 L96.99 583.82 L97.33 583.57 L97.66 583.32 L97.96 583.05 L98.26 582.78 L98.55 582.49 L98.82 582.19 L99.06 581.87 L99.29 581.54 L99.49 581.21 L99.67 580.88 L99.83 580.54 L99.98 580.20 L100.11 579.86 L100.22 579.53 L100.31 579.19 L100.39 578.86 L100.46 578.53 L100.50 578.20 L100.54 577.87 L100.55 577.54 L100.55 577.21 L100.53 576.89 L100.50 576.56 L100.46 576.24 L100.40 575.93 L100.33 575.61 L100.26 575.30 L100.17 574.99 L100.07 574.69 L99.96 574.39 L99.84 574.10 L99.71 573.81 L99.58 573.53 L99.43 573.25 L99.27 572.96 L99.11 572.68 L98.93 572.40 L98.74 572.13 L98.54 571.85 L98.33 571.58 L98.12 571.31 L97.89 571.05 L97.65 570.80 L97.40 570.55 L97.15 570.30 L96.88 570.07 L96.60 569.84 L96.30 569.62 L96.00 569.40 L95.68 569.19 L95.35 568.99 L95.02 568.79 L94.67 568.59 L94.32 568.40 L93.97 568.22 L93.61 568.04 L93.25 567.87 L92.89 567.71 L92.53 567.56 L92.16 567.41 L91.77 567.26 L91.36 567.12 L90.93 566.99 L90.48 566.86 L90.03 566.74 L89.58 566.63 L89.13 566.52 L88.70 566.42 L88.28 566.33 L87.90 566.25 L87.54 566.17 L87.23 566.10 L86.96 566.04 L86.74 565.98 L86.54 566.81 L86.76 566.86 L87.03 566.93 L87.35 567.00 L87.71 567.09 L88.09 567.18 L88.50 567.27 L88.93 567.38 L89.36 567.49 L89.80 567.60 L90.24 567.72 L90.67 567.85 L91.08 567.98 L91.46 568.12 L91.82 568.25 L92.17 568.40 L92.51 568.55 L92.86 568.71 L93.21 568.88 L93.55 569.05 L93.89 569.23 L94.22 569.41 L94.54 569.60 L94.85 569.79 L95.16 569.99 L95.45 570.19 L95.73 570.39 L95.99 570.60 L96.24 570.81 L96.47 571.03 L96.70 571.25 L96.92 571.48 L97.13 571.72 L97.33 571.96 L97.52 572.21 L97.71 572.45 L97.87 572.71 L98.03 572.96 L98.18 573.22 L98.31 573.48 L98.43 573.74 L98.53 573.99 L98.62 574.25 L98.70 574.50 L98.77 574.77 L98.83 575.03 L98.88 575.30 L98.91 575.56 L98.94 575.83 L98.95 576.09 L98.94 576.35 L98.92 576.60 L98.89 576.84 L98.84 577.07 L98.78 577.29 L98.71 577.50 L98.61 577.69 L98.51 577.88 L98.38 578.07 L98.24 578.25 L98.09 578.44 L97.92 578.61 L97.74 578.78 L97.56 578.94 L97.36 579.08 L97.16 579.21 L96.96 579.33 L96.76 579.43 L96.56 579.51 L96.36 579.58 L96.16 579.63 L95.95 579.68 L95.71 579.73 L95.47 579.76 L95.22 579.79 L94.96 579.81 L94.70 579.82 L94.44 579.81 L94.18 579.80 L93.92 579.78 L93.66 579.76 L93.41 579.72 L93.17 579.68 L92.93 579.63 L92.70 579.58 L92.48 579.52 L92.25 579.45 L91.99 579.37 L91.71 579.28 L91.41 579.18 L91.09 579.07 L90.75 578.95 L90.38 578.82 L90.00 578.68 L89.60 578.53 L89.18 578.37 L88.75 578.20 L88.29 578.03 L87.85 577.86 L87.42 577.70 L86.99 577.53 L86.54 577.34 L86.07 577.15 L85.58 576.95 L85.08 576.74 L84.57 576.52 L84.05 576.30 L83.52 576.07 L82.99 575.85 L82.44 575.62 L81.90 575.40 L81.35 575.18 L80.82 574.98 L80.32 574.78 L79.82 574.58 L79.31 574.38 L78.79 574.16 L78.25 573.94 L77.71 573.72 L77.16 573.50 L76.60 573.29 L76.03 573.08 L75.45 572.89 L74.87 572.70 L74.28 572.54 L73.68 572.39 L73.09 572.27 L72.51 572.18 L71.96 572.11 L71.41 572.07 L70.88 572.04 L70.35 572.02 L69.83 572.03 L69.32 572.06 L68.82 572.10 L68.33 572.15 L67.86 572.23 L67.39 572.31 L66.94 572.41 L66.50 572.53 L66.06 572.66 L65.63 572.81 L65.20 572.97 L64.78 573.16 L64.37 573.36 L63.97 573.58 L63.59 573.81 L63.22 574.06 L62.86 574.32 L62.52 574.59 L62.19 574.88 L61.88 575.17 L61.58 575.48 L61.30 575.80 L61.03 576.13 L60.78 576.48 L60.55 576.84 L60.34 577.21 L60.16 577.58 L60.00 577.95 L59.86 578.32 L59.74 578.70 L59.63 579.07 L59.54 579.45 L59.46 579.82 L59.40 580.18 L59.34 580.55 L59.30 580.91 L59.26 581.26 L59.24 581.62 L59.22 581.98 L59.22 582.34 L59.23 582.70 L59.25 583.06 L59.28 583.42 L59.32 583.77 L59.36 584.13 L59.42 584.49 L59.49 584.84 L59.56 585.20 L59.65 585.56 L59.74 585.92 L59.84 586.28 L59.95 586.64 L60.06 587.01 L60.18 587.39 L60.31 587.77 L60.45 588.15 L60.60 588.54 L60.76 588.93 L60.92 589.32 L61.10 589.71 L61.28 590.10 L61.48 590.48 L61.68 590.86 L61.89 591.24 L62.12 591.62 L62.35 591.98 L62.60 592.36 L62.85 592.73 L63.12 593.11 L63.39 593.49 L63.67 593.86 L63.97 594.23 L64.27 594.60 L64.58 594.96 L64.89 595.31 L65.22 595.65 L65.55 595.98 L65.88 596.29 L66.23 596.59 L66.59 596.88 L66.99 597.16 L67.41 597.43 L67.85 597.69 L68.30 597.94 L68.74 598.18 L69.19 598.41 L69.62 598.62 L70.03 598.82 L70.41 599.00 L70.77 599.17 L71.08 599.32 L71.34 599.44 L71.55 599.55Z"/>
<path d="M36.20 589.36 L98.52 605.02 L100.34 606.46 L100.73 608.42 L99.43 610.11 L97.21 610.24 L40.11 596.41 L39.66 602.41 L38.35 603.20 L37.05 602.41Z"/>
<text transform="translate(0.00,0.00) rotate(-90) translate(-562.91,62.20) scale(1.0466,1.0000)" font-size="61.02">2</text>
<path d="M95.19 482.55 L94.87 482.36 L94.46 482.13 L94.00 481.86 L93.48 481.56 L92.91 481.23 L92.31 480.88 L91.68 480.52 L91.03 480.14 L90.38 479.75 L89.72 479.36 L89.08 478.97 L88.46 478.58 L87.87 478.21 L87.32 477.85 L86.80 477.50 L86.28 477.13 L85.76 476.76 L85.25 476.38 L84.74 476.00 L84.22 475.61 L83.71 475.22 L83.19 474.83 L82.66 474.43 L82.13 474.04 L81.59 473.65 L81.04 473.27 L80.48 472.89 L79.92 472.53 L79.38 472.18 L78.85 471.83 L78.31 471.48 L77.76 471.14 L77.21 470.79 L76.65 470.44 L76.08 470.10 L75.50 469.76 L74.91 469.43 L74.31 469.11 L73.70 468.79 L73.08 468.49 L72.45 468.19 L71.82 467.92 L71.21 467.67 L70.62 467.43 L70.01 467.20 L69.39 466.98 L68.77 466.76 L68.14 466.56 L67.50 466.37 L66.85 466.19 L66.19 466.02 L65.53 465.87 L64.85 465.73 L64.17 465.61 L63.48 465.51 L62.80 465.43 L62.13 465.38 L61.47 465.33 L60.80 465.31 L60.13 465.29 L59.45 465.29 L58.77 465.32 L58.09 465.35 L57.40 465.41 L56.71 465.49 L56.02 465.59 L55.33 465.71 L54.65 465.86 L53.96 466.03 L53.29 466.23 L52.63 466.45 L51.99 466.70 L51.36 466.97 L50.74 467.26 L50.13 467.58 L49.53 467.91 L48.95 468.26 L48.38 468.62 L47.83 468.99 L47.29 469.38 L46.76 469.77 L46.24 470.18 L45.74 470.59 L45.24 471.01 L44.76 471.44 L44.29 471.88 L43.83 472.34 L43.38 472.80 L42.95 473.28 L42.52 473.76 L42.11 474.25 L41.71 474.75 L41.32 475.26 L40.95 475.78 L40.59 476.30 L40.24 476.83 L39.90 477.36 L39.57 477.91 L39.26 478.47 L38.95 479.04 L38.66 479.62 L38.38 480.21 L38.12 480.81 L37.86 481.41 L37.62 482.01 L37.39 482.62 L37.17 483.22 L36.97 483.82 L36.77 484.41 L36.58 484.99 L36.41 485.57 L36.25 486.13 L36.10 486.69 L35.95 487.24 L35.82 487.80 L35.69 488.35 L35.57 488.90 L35.47 489.45 L35.37 490.00 L35.29 490.55 L35.21 491.10 L35.15 491.65 L35.10 492.21 L35.07 492.76 L35.05 493.31 L35.04 493.87 L35.05 494.43 L35.07 494.98 L35.10 495.54 L35.15 496.09 L35.21 496.64 L35.29 497.19 L35.37 497.74 L35.47 498.29 L35.57 498.84 L35.69 499.39 L35.82 499.94 L35.95 500.50 L36.10 501.05 L36.25 501.61 L36.41 502.17 L36.58 502.75 L36.77 503.33 L36.97 503.93 L37.17 504.52 L37.39 505.12 L37.62 505.73 L37.86 506.33 L38.12 506.93 L38.38 507.53 L38.66 508.12 L38.95 508.70 L39.26 509.28 L39.57 509.83 L39.90 510.38 L40.24 510.91 L40.59 511.44 L40.95 511.96 L41.32 512.48 L41.71 512.99 L42.11 513.49 L42.52 513.98 L42.95 514.47 L43.38 514.94 L43.83 515.41 L44.29 515.86 L44.76 516.30 L45.24 516.73 L45.74 517.15 L46.24 517.56 L46.76 517.97 L47.29 518.36 L47.83 518.75 L48.38 519.12 L48.95 519.49 L49.53 519.83 L50.13 520.16 L50.74 520.48 L51.36 520.77 L51.99 521.04 L52.63 521.29 L53.29 521.51 L53.96 521.71 L54.65 521.88 L55.33 522.03 L56.02 522.15 L56.71 522.25 L57.40 522.33 L58.09 522.39 L58.77 522.43 L59.45 522.45 L60.13 522.45 L60.80 522.44 L61.47 522.41 L62.13 522.37 L62.80 522.31 L63.48 522.23 L64.17 522.13 L64.85 522.01 L65.53 521.87 L66.19 521.72 L66.85 521.56 L67.50 521.38 L68.14 521.18 L68.77 520.98 L69.39 520.76 L70.01 520.54 L70.62 520.31 L71.21 520.07 L71.82 519.82 L72.45 519.55 L73.08 519.25 L73.70 518.95 L74.31 518.63 L74.91 518.31 L75.50 517.98 L76.08 517.64 L76.65 517.30 L77.21 516.95 L77.76 516.61 L78.31 516.26 L78.85 515.91 L79.38 515.56 L79.92 515.22 L80.48 514.85 L81.04 514.47 L81.59 514.09 L82.13 513.70 L82.66 513.31 L83.19 512.92 L83.71 512.52 L84.22 512.13 L84.74 511.74 L85.25 511.36 L85.76 510.98 L86.28 510.61 L86.80 510.25 L87.32 509.89 L87.87 509.54 L88.46 509.16 L89.08 508.78 L89.72 508.38 L90.38 507.99 L91.03 507.60 L91.68 507.22 L92.31 506.86 L92.91 506.51 L93.48 506.18 L94.00 505.88 L94.46 505.61 L94.87 505.38 L95.19 505.19 L94.65 503.84 L94.28 503.93 L93.84 504.04 L93.32 504.16 L92.73 504.29 L92.09 504.44 L91.41 504.60 L90.70 504.77 L89.96 504.95 L89.21 505.13 L88.45 505.32 L87.71 505.51 L86.97 505.70 L86.26 505.89 L85.59 506.07 L84.93 506.26 L84.28 506.46 L83.63 506.65 L82.98 506.85 L82.35 507.05 L81.71 507.26 L81.08 507.46 L80.46 507.66 L79.84 507.86 L79.23 508.05 L78.63 508.25 L78.03 508.44 L77.45 508.63 L76.85 508.82 L76.24 509.02 L75.62 509.23 L75.01 509.44 L74.40 509.65 L73.80 509.86 L73.21 510.06 L72.63 510.26 L72.06 510.46 L71.49 510.65 L70.94 510.83 L70.40 511.00 L69.87 511.17 L69.35 511.32 L68.82 511.47 L68.28 511.62 L67.73 511.78 L67.18 511.93 L66.64 512.08 L66.11 512.23 L65.59 512.36 L65.08 512.50 L64.58 512.62 L64.08 512.73 L63.60 512.84 L63.12 512.94 L62.65 513.03 L62.19 513.11 L61.72 513.18 L61.23 513.24 L60.73 513.30 L60.23 513.36 L59.73 513.41 L59.24 513.45 L58.75 513.49 L58.26 513.52 L57.79 513.54 L57.32 513.55 L56.86 513.56 L56.40 513.55 L55.96 513.54 L55.53 513.52 L55.10 513.49 L54.66 513.44 L54.21 513.39 L53.76 513.33 L53.29 513.26 L52.82 513.17 L52.35 513.07 L51.87 512.96 L51.40 512.84 L50.92 512.70 L50.45 512.55 L49.98 512.39 L49.52 512.21 L49.07 512.02 L48.63 511.82 L48.19 511.60 L47.76 511.36 L47.34 511.11 L46.91 510.84 L46.49 510.56 L46.07 510.26 L45.66 509.95 L45.26 509.62 L44.86 509.28 L44.47 508.93 L44.09 508.57 L43.72 508.20 L43.35 507.81 L43.01 507.42 L42.67 507.02 L42.34 506.60 L42.02 506.16 L41.70 505.70 L41.39 505.22 L41.09 504.73 L40.80 504.23 L40.51 503.72 L40.24 503.21 L39.98 502.69 L39.74 502.17 L39.50 501.66 L39.28 501.15 L39.07 500.65 L38.88 500.15 L38.69 499.66 L38.52 499.17 L38.36 498.68 L38.21 498.20 L38.08 497.71 L37.96 497.23 L37.85 496.75 L37.76 496.27 L37.68 495.79 L37.62 495.31 L37.58 494.83 L37.55 494.35 L37.54 493.87 L37.55 493.39 L37.58 492.91 L37.62 492.43 L37.68 491.96 L37.76 491.48 L37.85 490.99 L37.96 490.51 L38.08 490.03 L38.21 489.55 L38.36 489.06 L38.52 488.57 L38.69 488.08 L38.88 487.59 L39.07 487.09 L39.28 486.59 L39.50 486.08 L39.74 485.57 L39.98 485.05 L40.24 484.53 L40.51 484.02 L40.80 483.51 L41.09 483.01 L41.39 482.52 L41.70 482.04 L42.02 481.58 L42.34 481.14 L42.67 480.72 L43.01 480.32 L43.35 479.93 L43.72 479.55 L44.09 479.17 L44.47 478.81 L44.86 478.46 L45.26 478.12 L45.66 477.79 L46.07 477.48 L46.49 477.18 L46.91 476.90 L47.34 476.63 L47.76 476.38 L48.19 476.14 L48.63 475.93 L49.07 475.72 L49.52 475.53 L49.98 475.35 L50.45 475.19 L50.92 475.04 L51.40 474.90 L51.87 474.78 L52.35 474.67 L52.82 474.57 L53.29 474.49 L53.76 474.41 L54.21 474.35 L54.66 474.30 L55.10 474.25 L55.53 474.22 L55.96 474.20 L56.40 474.19 L56.86 474.18 L57.32 474.19 L57.79 474.20 L58.26 474.22 L58.75 474.25 L59.24 474.29 L59.73 474.33 L60.23 474.38 L60.73 474.44 L61.23 474.50 L61.72 474.57 L62.19 474.64 L62.65 474.71 L63.12 474.80 L63.60 474.90 L64.08 475.01 L64.58 475.12 L65.08 475.25 L65.59 475.38 L66.11 475.52 L66.64 475.66 L67.18 475.81 L67.73 475.96 L68.28 476.12 L68.82 476.27 L69.35 476.42 L69.87 476.58 L70.40 476.74 L70.94 476.91 L71.49 477.10 L72.06 477.28 L72.63 477.48 L73.21 477.68 L73.80 477.89 L74.40 478.09 L75.01 478.30 L75.62 478.51 L76.24 478.72 L76.85 478.93 L77.45 479.11 L78.03 479.30 L78.63 479.49 L79.23 479.69 L79.84 479.89 L80.46 480.08 L81.08 480.29 L81.71 480.49 L82.35 480.69 L82.98 480.89 L83.63 481.09 L84.28 481.28 L84.93 481.48 L85.59 481.67 L86.26 481.86 L86.97 482.05 L87.71 482.24 L88.45 482.42 L89.21 482.61 L89.96 482.79 L90.70 482.97 L91.41 483.14 L92.09 483.30 L92.73 483.45 L93.32 483.58 L93.84 483.71 L94.28 483.81 L94.65 483.90Z"/>
<path d="M99.76 468.06 L99.76 484.60 L94.52 483.55 L94.52 470.32 L85.65 467.74 L85.65 465.32Z"/>
<path d="M99.76 519.68 L99.76 503.15 L94.52 504.19 L94.52 517.42 L85.65 520.00 L85.65 522.42Z"/>
<text transform="translate(0.00,0.00) rotate(-90) translate(-460.32,115.00) scale(1.0188,1.0000)" font-size="67.51">G</text>
<text transform="translate(0.00,0.00) rotate(-90) translate(-407.47,115.00) scale(1.0153,1.0000)" font-size="66.89">W</text>
<text transform="translate(1334.05,122.60) scale(1.0146,1.0000)" font-size="63.38">B</text>
<text transform="translate(1377.82,122.60) scale(1.0847,1.0000)" font-size="63.38">P</text>
<text transform="translate(1419.58,122.60) scale(0.8545,1.0000)" font-size="61.50">1</text>
<text transform="translate(1450.43,122.60) scale(0.8323,1.0000)" font-size="62.12">,</text>
<path d="M1505.88 80.96 L1506.01 80.95 L1506.18 80.93 L1506.36 80.91 L1506.55 80.88 L1506.76 80.84 L1506.98 80.81 L1507.20 80.79 L1507.43 80.77 L1507.65 80.76 L1507.87 80.77 L1508.07 80.79 L1508.25 80.82 L1508.41 80.88 L1508.54 80.95 L1508.70 81.04 L1508.87 81.14 L1509.03 81.25 L1509.17 81.37 L1509.30 81.49 L1509.41 81.62 L1509.51 81.75 L1509.60 81.89 L1509.68 82.04 L1509.75 82.19 L1509.82 82.35 L1509.89 82.53 L1509.95 82.72 L1510.03 82.93 L1510.10 83.17 L1510.18 83.44 L1510.26 83.73 L1510.35 84.06 L1510.43 84.42 L1510.52 84.79 L1510.61 85.19 L1510.70 85.62 L1510.80 86.06 L1510.90 86.52 L1511.01 87.00 L1511.13 87.50 L1511.25 88.01 L1511.38 88.52 L1511.51 89.03 L1511.64 89.56 L1511.78 90.11 L1511.92 90.67 L1512.07 91.26 L1512.22 91.86 L1512.37 92.48 L1512.53 93.11 L1512.69 93.75 L1512.86 94.40 L1513.04 95.07 L1513.21 95.74 L1513.40 96.41 L1513.58 97.09 L1513.77 97.77 L1513.97 98.47 L1514.17 99.17 L1514.38 99.89 L1514.59 100.62 L1514.81 101.35 L1515.02 102.09 L1515.24 102.83 L1515.47 103.57 L1515.69 104.31 L1515.91 105.05 L1516.13 105.78 L1516.35 106.50 L1516.57 107.22 L1516.79 107.93 L1517.01 108.65 L1517.23 109.37 L1517.46 110.09 L1517.69 110.81 L1517.92 111.53 L1518.14 112.24 L1518.37 112.94 L1518.59 113.63 L1518.80 114.30 L1519.01 114.96 L1519.22 115.60 L1519.41 116.22 L1519.60 116.81 L1519.78 117.39 L1519.97 117.98 L1520.15 118.56 L1520.33 119.14 L1520.51 119.70 L1520.68 120.25 L1520.84 120.78 L1521.00 121.29 L1521.15 121.76 L1521.29 122.20 L1521.42 122.61 L1521.53 122.97 L1521.63 123.29 L1521.71 123.56 L1527.20 121.84 L1527.11 121.58 L1527.01 121.26 L1526.90 120.89 L1526.77 120.49 L1526.63 120.05 L1526.49 119.57 L1526.33 119.06 L1526.16 118.54 L1525.99 117.99 L1525.81 117.42 L1525.63 116.84 L1525.45 116.26 L1525.26 115.67 L1525.08 115.08 L1524.89 114.49 L1524.69 113.86 L1524.49 113.22 L1524.28 112.56 L1524.07 111.88 L1523.85 111.19 L1523.62 110.50 L1523.40 109.79 L1523.17 109.08 L1522.95 108.36 L1522.72 107.65 L1522.50 106.93 L1522.28 106.23 L1522.06 105.53 L1521.84 104.82 L1521.62 104.11 L1521.40 103.39 L1521.18 102.65 L1520.96 101.92 L1520.74 101.18 L1520.52 100.45 L1520.30 99.71 L1520.08 98.98 L1519.86 98.26 L1519.64 97.55 L1519.42 96.85 L1519.21 96.16 L1519.00 95.49 L1518.79 94.84 L1518.59 94.19 L1518.39 93.54 L1518.19 92.89 L1517.99 92.25 L1517.80 91.62 L1517.60 90.99 L1517.40 90.37 L1517.20 89.76 L1517.00 89.17 L1516.80 88.58 L1516.59 88.01 L1516.38 87.45 L1516.16 86.92 L1515.95 86.42 L1515.74 85.94 L1515.52 85.46 L1515.31 85.00 L1515.09 84.54 L1514.86 84.09 L1514.64 83.66 L1514.41 83.24 L1514.17 82.83 L1513.93 82.44 L1513.68 82.06 L1513.42 81.70 L1513.16 81.35 L1512.88 81.02 L1512.59 80.72 L1512.29 80.46 L1511.98 80.23 L1511.67 80.03 L1511.36 79.86 L1511.05 79.73 L1510.74 79.63 L1510.45 79.55 L1510.17 79.49 L1509.90 79.45 L1509.64 79.43 L1509.40 79.41 L1509.16 79.40 L1508.92 79.38 L1508.63 79.36 L1508.34 79.37 L1508.05 79.40 L1507.78 79.44 L1507.51 79.49 L1507.24 79.55 L1506.99 79.61 L1506.75 79.67 L1506.52 79.74 L1506.31 79.80 L1506.13 79.86 L1505.97 79.90 L1505.84 79.94 L1505.73 79.96Z"/>
<path d="M1514.62 103.97 L1514.46 104.14 L1514.26 104.35 L1514.04 104.60 L1513.79 104.87 L1513.52 105.17 L1513.23 105.48 L1512.92 105.82 L1512.60 106.17 L1512.27 106.53 L1511.94 106.89 L1511.60 107.26 L1511.26 107.62 L1510.93 107.98 L1510.60 108.33 L1510.27 108.69 L1509.93 109.05 L1509.58 109.42 L1509.23 109.80 L1508.86 110.19 L1508.50 110.58 L1508.13 110.97 L1507.76 111.37 L1507.38 111.76 L1507.01 112.15 L1506.64 112.54 L1506.27 112.92 L1505.91 113.29 L1505.55 113.66 L1505.19 114.02 L1504.82 114.39 L1504.44 114.77 L1504.05 115.15 L1503.67 115.52 L1503.28 115.90 L1502.90 116.27 L1502.53 116.63 L1502.16 116.98 L1501.81 117.31 L1501.48 117.63 L1501.17 117.93 L1500.87 118.22 L1500.61 118.47 L1500.37 118.70 L1500.15 118.92 L1499.95 119.11 L1499.77 119.29 L1499.60 119.46 L1499.45 119.61 L1499.31 119.74 L1499.18 119.87 L1499.07 119.98 L1498.97 120.08 L1498.87 120.18 L1498.78 120.26 L1498.70 120.34 L1498.63 120.41 L1500.89 122.57 L1500.96 122.49 L1501.03 122.41 L1501.11 122.32 L1501.20 122.22 L1501.30 122.11 L1501.41 121.99 L1501.53 121.86 L1501.66 121.71 L1501.80 121.55 L1501.96 121.37 L1502.13 121.17 L1502.32 120.96 L1502.52 120.73 L1502.74 120.48 L1502.97 120.21 L1503.24 119.90 L1503.52 119.58 L1503.82 119.23 L1504.14 118.86 L1504.48 118.48 L1504.82 118.09 L1505.17 117.68 L1505.53 117.27 L1505.88 116.86 L1506.24 116.44 L1506.59 116.03 L1506.93 115.62 L1507.27 115.21 L1507.60 114.81 L1507.94 114.40 L1508.28 113.99 L1508.62 113.57 L1508.96 113.14 L1509.31 112.72 L1509.65 112.29 L1509.98 111.87 L1510.32 111.45 L1510.65 111.03 L1510.97 110.62 L1511.29 110.22 L1511.60 109.83 L1511.90 109.45 L1512.20 109.07 L1512.50 108.68 L1512.81 108.28 L1513.12 107.89 L1513.42 107.50 L1513.72 107.11 L1514.01 106.73 L1514.29 106.37 L1514.55 106.03 L1514.80 105.71 L1515.02 105.42 L1515.22 105.16 L1515.40 104.93 L1515.54 104.74Z"/>
<path d="M1498.20 121.29a1.56 1.56 0 1 0 3.12 0a1.56 1.56 0 1 0 -3.12 0Z"/>
<path d="M1551.60 100.9H1589.90" stroke="#000" stroke-width="2.5" stroke-linecap="round" fill="none"/>
<path d="M1551.60 112.2H1589.90" stroke="#000" stroke-width="2.5" stroke-linecap="round" fill="none"/>
<path d="M1617.20 106.6H1652.40" stroke="#000" stroke-width="2.5" stroke-linecap="round" fill="none"/>
<text transform="translate(1659.67,122.60) scale(0.9938,1.0000)" font-size="61.50">0.48</text>
<clipPath id="c1"><rect x="2219.8" y="15.0" width="1495.10" height="924.40"/></clipPath>
<g clip-path="url(#c1)" fill="none">
<clipPath id="x1blue"><rect x="2219.8" y="15.0" width="1196.60" height="924.40"/></clipPath>
<path d="M2359.50 939.40 L2362.15 935.58 L2364.80 931.76 L2367.44 927.94 L2370.09 924.12 L2372.74 920.30 L2375.39 916.48 L2378.04 912.66 L2380.69 908.84 L2383.33 905.02 L2385.98 901.20 L2388.63 897.37 L2391.28 893.55 L2393.93 889.73 L2396.58 885.91 L2399.22 882.09 L2401.87 878.27 L2404.52 874.45 L2407.17 870.63 L2409.82 866.81 L2412.46 862.99 L2415.11 859.17 L2417.76 855.35 L2420.41 851.53 L2423.06 847.71 L2425.71 843.89 L2428.35 840.07 L2431.00 836.25 L2433.65 832.43 L2436.30 828.61 L2438.95 824.79 L2441.59 820.97 L2444.24 817.15 L2446.89 813.33 L2449.54 809.50 L2452.19 805.68 L2454.84 801.86 L2457.48 798.04 L2460.13 794.22 L2462.78 790.40 L2465.43 786.58 L2468.08 782.76 L2470.73 778.94 L2473.37 775.12 L2476.02 771.30 L2478.67 767.48 L2481.32 763.66 L2483.97 759.84 L2486.61 756.02 L2489.26 752.20 L2491.91 748.38 L2494.56 744.56 L2497.21 740.74 L2499.86 736.92 L2502.50 733.10 L2505.15 729.28 L2507.80 725.46 L2510.45 721.64 L2513.10 717.82 L2515.75 714.00 L2518.39 710.18 L2521.04 706.36 L2523.69 702.54 L2526.34 698.72 L2528.99 694.90 L2531.63 691.08 L2534.28 687.26 L2536.93 683.44 L2539.58 679.62 L2542.23 675.80 L2544.88 671.98 L2547.52 668.16 L2550.17 664.34 L2552.82 660.52 L2555.47 656.71 L2558.12 652.89 L2560.76 649.07 L2563.41 645.25 L2566.06 641.43 L2568.71 637.61 L2571.36 633.79 L2574.01 629.97 L2576.65 626.15 L2579.30 622.34 L2581.95 618.52 L2584.60 614.70 L2587.25 610.88 L2589.90 607.06 L2592.54 603.25 L2595.19 599.43 L2597.84 595.61 L2600.49 591.79 L2603.14 587.98 L2605.78 584.16 L2608.43 580.34 L2611.08 576.53 L2613.73 572.71 L2616.38 568.90 L2619.03 565.08 L2621.67 561.27 L2624.32 557.45 L2626.97 553.64 L2629.62 549.82 L2632.27 546.01 L2634.92 542.19 L2637.56 538.38 L2640.21 534.57 L2642.86 530.76 L2645.51 526.94 L2648.16 523.13 L2650.80 519.32 L2653.45 515.51 L2656.10 511.70 L2658.75 507.89 L2661.40 504.09 L2664.05 500.28 L2666.69 496.47 L2669.34 492.67 L2671.99 488.86 L2674.64 485.06 L2677.29 481.26 L2679.93 477.45 L2682.58 473.65 L2685.23 469.85 L2687.88 466.05 L2690.53 462.26 L2693.18 458.46 L2695.82 454.67 L2698.47 450.87 L2701.12 447.08 L2703.77 443.29 L2706.42 439.51 L2709.07 435.72 L2711.71 431.94 L2714.36 428.16 L2717.01 424.38 L2719.66 420.60 L2722.31 416.82 L2724.95 413.05 L2727.60 409.28 L2730.25 405.52 L2732.90 401.76 L2735.55 398.00 L2738.20 394.24 L2740.84 390.49 L2743.49 386.74 L2746.14 383.00 L2748.79 379.26 L2751.44 375.53 L2754.09 371.80 L2756.73 368.07 L2759.38 364.35 L2762.03 360.64 L2764.68 356.93 L2767.33 353.24 L2769.97 349.54 L2772.62 345.86 L2775.27 342.18 L2777.92 338.51 L2780.57 334.85 L2783.22 331.20 L2785.86 327.56 L2788.51 323.93 L2791.16 320.31 L2793.81 316.70 L2796.46 313.10 L2799.10 309.52 L2801.75 305.95 L2804.40 302.39 L2807.05 298.85 L2809.70 295.33 L2812.35 291.82 L2814.99 288.33 L2817.64 284.86 L2820.29 281.40 L2822.94 277.97 L2825.59 274.56 L2828.24 271.18 L2830.88 267.81 L2833.53 264.48 L2836.18 261.17 L2838.83 257.88 L2841.48 254.63 L2844.12 251.41 L2846.77 248.22 L2849.42 245.07 L2852.07 241.95 L2854.72 238.87 L2857.37 235.83 L2860.01 232.83 L2862.66 229.87 L2865.31 226.96 L2867.96 224.10 L2870.61 221.29 L2873.26 218.53 L2875.90 215.82 L2878.55 213.17 L2881.20 210.58 L2883.85 208.05 L2886.50 205.59 L2889.14 203.20 L2891.79 200.87 L2894.44 198.61 L2897.09 196.44 L2899.74 194.33 L2902.39 192.31 L2905.03 190.38 L2907.68 188.53 L2910.33 186.76 L2912.98 185.09 L2915.63 183.52 L2918.27 182.04 L2920.92 180.66 L2923.57 179.38 L2926.22 178.21 L2928.87 177.15 L2931.52 176.20 L2934.16 175.36 L2936.81 174.63 L2939.46 174.02 L2942.11 173.53 L2944.76 173.15 L2947.41 172.90 L2950.05 172.77 L2952.70 172.77 L2955.35 172.89 L2958.00 173.14 L2960.65 173.51 L2963.29 174.01 L2965.94 174.64 L2968.59 175.39 L2971.24 176.27 L2973.89 177.28 L2976.54 178.42 L2979.18 179.68 L2981.83 181.06 L2984.48 182.57 L2987.13 184.20 L2989.78 185.95 L2992.43 187.81 L2995.07 189.80 L2997.72 191.89 L3000.37 194.11 L3003.02 196.43 L3005.67 198.86 L3008.31 201.39 L3010.96 204.03 L3013.61 206.77 L3016.26 209.60 L3018.91 212.53 L3021.56 215.55 L3024.20 218.66 L3026.85 221.86 L3029.50 225.15 L3032.15 228.51 L3034.80 231.95 L3037.44 235.47 L3040.09 239.06 L3042.74 242.72 L3045.39 246.44 L3048.04 250.24 L3050.69 254.09 L3053.33 258.00 L3055.98 261.98 L3058.63 266.00 L3061.28 270.08 L3063.93 274.21 L3066.58 278.39 L3069.22 282.61 L3071.87 286.87 L3074.52 291.18 L3077.17 295.53 L3079.82 299.92 L3082.46 304.34 L3085.11 308.80 L3087.76 313.29 L3090.41 317.81 L3093.06 322.36 L3095.71 326.94 L3098.35 331.55 L3101.00 336.18 L3103.65 340.84 L3106.30 345.52 L3108.95 350.22 L3111.60 354.94 L3114.24 359.69 L3116.89 364.45 L3119.54 369.23 L3122.19 374.02 L3124.84 378.83 L3127.48 383.66 L3130.13 388.50 L3132.78 393.36 L3135.43 398.23 L3138.08 403.11 L3140.73 408.00 L3143.37 412.90 L3146.02 417.81 L3148.67 422.74 L3151.32 427.67 L3153.97 432.61 L3156.62 437.56 L3159.26 442.52 L3161.91 447.48 L3164.56 452.46 L3167.21 457.44 L3169.86 462.42 L3172.50 467.41 L3175.15 472.41 L3177.80 477.41 L3180.45 482.42 L3183.10 487.43 L3185.75 492.45 L3188.39 497.47 L3191.04 502.49 L3193.69 507.52 L3196.34 512.55 L3198.99 517.59 L3201.63 522.63 L3204.28 527.67 L3206.93 532.71 L3209.58 537.76 L3212.23 542.81 L3214.88 547.86 L3217.52 552.92 L3220.17 557.97 L3222.82 563.03 L3225.47 568.09 L3228.12 573.16 L3230.77 578.22 L3233.41 583.29 L3236.06 588.35 L3238.71 593.42 L3241.36 598.49 L3244.01 603.57 L3246.65 608.64 L3249.30 613.71 L3251.95 618.79 L3254.60 623.86 L3257.25 628.94 L3259.90 634.02 L3262.54 639.10 L3265.19 644.18 L3267.84 649.26 L3270.49 654.34 L3273.14 659.42 L3275.79 664.51 L3278.43 669.59 L3281.08 674.67 L3283.73 679.76 L3286.38 684.84 L3289.03 689.93 L3291.67 695.01 L3294.32 700.10 L3296.97 705.19 L3299.62 710.28 L3302.27 715.36 L3304.92 720.45 L3307.56 725.54 L3310.21 730.63 L3312.86 735.72 L3315.51 740.81 L3318.16 745.90 L3320.80 750.99 L3323.45 756.08 L3326.10 761.17 L3328.75 766.26 L3331.40 771.35 L3334.05 776.44 L3336.69 781.53 L3339.34 786.62 L3341.99 791.71 L3344.64 796.80 L3347.29 801.89 L3349.94 806.99 L3352.58 812.08 L3355.23 817.17 L3357.88 822.26 L3360.53 827.35 L3363.18 832.45 L3365.82 837.54 L3368.47 842.63 L3371.12 847.72 L3373.77 852.82 L3376.42 857.91 L3379.07 863.00 L3381.71 868.09 L3384.36 873.19 L3387.01 878.28 L3389.66 883.37 L3392.31 888.47 L3394.96 893.56 L3397.60 898.65 L3400.25 903.75 L3402.90 908.84 L3405.55 913.93 L3408.20 919.03 L3410.84 924.12 L3413.49 929.21 L3416.14 934.31 L3418.79 939.40" stroke="#0072bd" stroke-width="8.3" stroke-dasharray="20.9 20.8" stroke-dashoffset="42.00" stroke-linejoin="round" clip-path="url(#x1blue)"/>
<path d="M2297.90 939.40 L2300.75 935.29 L2303.60 931.18 L2306.44 927.07 L2309.29 922.96 L2312.14 918.85 L2314.99 914.75 L2317.84 910.64 L2320.69 906.53 L2323.53 902.42 L2326.38 898.31 L2329.23 894.20 L2332.08 890.09 L2334.93 885.98 L2337.78 881.87 L2340.62 877.76 L2343.47 873.66 L2346.32 869.55 L2349.17 865.44 L2352.02 861.33 L2354.86 857.22 L2357.71 853.11 L2360.56 849.00 L2363.41 844.89 L2366.26 840.78 L2369.11 836.67 L2371.95 832.57 L2374.80 828.46 L2377.65 824.35 L2380.50 820.24 L2383.35 816.13 L2386.20 812.02 L2389.04 807.91 L2391.89 803.80 L2394.74 799.69 L2397.59 795.58 L2400.44 791.48 L2403.28 787.37 L2406.13 783.26 L2408.98 779.15 L2411.83 775.04 L2414.68 770.93 L2417.53 766.82 L2420.37 762.71 L2423.22 758.60 L2426.07 754.49 L2428.92 750.39 L2431.77 746.28 L2434.61 742.17 L2437.46 738.06 L2440.31 733.95 L2443.16 729.84 L2446.01 725.73 L2448.86 721.62 L2451.70 717.51 L2454.55 713.41 L2457.40 709.30 L2460.25 705.19 L2463.10 701.08 L2465.95 696.97 L2468.79 692.86 L2471.64 688.75 L2474.49 684.64 L2477.34 680.54 L2480.19 676.43 L2483.03 672.32 L2485.88 668.21 L2488.73 664.10 L2491.58 659.99 L2494.43 655.88 L2497.28 651.78 L2500.12 647.67 L2502.97 643.56 L2505.82 639.45 L2508.67 635.34 L2511.52 631.23 L2514.37 627.13 L2517.21 623.02 L2520.06 618.91 L2522.91 614.80 L2525.76 610.69 L2528.61 606.58 L2531.45 602.48 L2534.30 598.37 L2537.15 594.26 L2540.00 590.15 L2542.85 586.05 L2545.70 581.94 L2548.54 577.83 L2551.39 573.72 L2554.24 569.62 L2557.09 565.51 L2559.94 561.40 L2562.79 557.30 L2565.63 553.19 L2568.48 549.08 L2571.33 544.98 L2574.18 540.87 L2577.03 536.76 L2579.87 532.66 L2582.72 528.55 L2585.57 524.45 L2588.42 520.34 L2591.27 516.24 L2594.12 512.13 L2596.96 508.03 L2599.81 503.92 L2602.66 499.82 L2605.51 495.72 L2608.36 491.61 L2611.21 487.51 L2614.05 483.41 L2616.90 479.31 L2619.75 475.21 L2622.60 471.11 L2625.45 467.01 L2628.29 462.91 L2631.14 458.81 L2633.99 454.71 L2636.84 450.61 L2639.69 446.51 L2642.54 442.42 L2645.38 438.32 L2648.23 434.23 L2651.08 430.13 L2653.93 426.04 L2656.78 421.95 L2659.63 417.86 L2662.47 413.77 L2665.32 409.68 L2668.17 405.59 L2671.02 401.50 L2673.87 397.42 L2676.71 393.34 L2679.56 389.26 L2682.41 385.18 L2685.26 381.10 L2688.11 377.02 L2690.96 372.95 L2693.80 368.88 L2696.65 364.81 L2699.50 360.74 L2702.35 356.68 L2705.20 352.62 L2708.04 348.56 L2710.89 344.51 L2713.74 340.46 L2716.59 336.41 L2719.44 332.36 L2722.29 328.33 L2725.13 324.29 L2727.98 320.26 L2730.83 316.23 L2733.68 312.21 L2736.53 308.20 L2739.38 304.19 L2742.22 300.19 L2745.07 296.19 L2747.92 292.20 L2750.77 288.22 L2753.62 284.25 L2756.46 280.29 L2759.31 276.33 L2762.16 272.38 L2765.01 268.45 L2767.86 264.52 L2770.71 260.61 L2773.55 256.71 L2776.40 252.82 L2779.25 248.94 L2782.10 245.08 L2784.95 241.24 L2787.80 237.41 L2790.64 233.60 L2793.49 229.80 L2796.34 226.03 L2799.19 222.27 L2802.04 218.54 L2804.88 214.83 L2807.73 211.14 L2810.58 207.48 L2813.43 203.85 L2816.28 200.25 L2819.13 196.67 L2821.97 193.13 L2824.82 189.62 L2827.67 186.15 L2830.52 182.71 L2833.37 179.32 L2836.22 175.96 L2839.06 172.65 L2841.91 169.38 L2844.76 166.17 L2847.61 163.00 L2850.46 159.89 L2853.30 156.83 L2856.15 153.84 L2859.00 150.90 L2861.85 148.03 L2864.70 145.23 L2867.55 142.50 L2870.39 139.84 L2873.24 137.26 L2876.09 134.76 L2878.94 132.34 L2881.79 130.02 L2884.64 127.78 L2887.48 125.63 L2890.33 123.59 L2893.18 121.64 L2896.03 119.80 L2898.88 118.07 L2901.72 116.45 L2904.57 114.94 L2907.42 113.56 L2910.27 112.29 L2913.12 111.15 L2915.97 110.13 L2918.81 109.25 L2921.66 108.50 L2924.51 107.88 L2927.36 107.40 L2930.21 107.06 L2933.06 106.86 L2935.90 106.81 L2938.75 106.89 L2941.60 107.13 L2944.45 107.51 L2947.30 108.04 L2950.14 108.71 L2952.99 109.53 L2955.84 110.50 L2958.69 111.61 L2961.54 112.88 L2964.39 114.28 L2967.23 115.83 L2970.08 117.52 L2972.93 119.35 L2975.78 121.31 L2978.63 123.42 L2981.47 125.65 L2984.32 128.02 L2987.17 130.51 L2990.02 133.13 L2992.87 135.87 L2995.72 138.73 L2998.56 141.70 L3001.41 144.79 L3004.26 147.98 L3007.11 151.28 L3009.96 154.68 L3012.81 158.18 L3015.65 161.78 L3018.50 165.46 L3021.35 169.24 L3024.20 173.09 L3027.05 177.03 L3029.89 181.05 L3032.74 185.14 L3035.59 189.30 L3038.44 193.53 L3041.29 197.83 L3044.14 202.19 L3046.98 206.60 L3049.83 211.08 L3052.68 215.60 L3055.53 220.18 L3058.38 224.81 L3061.23 229.49 L3064.07 234.20 L3066.92 238.96 L3069.77 243.76 L3072.62 248.60 L3075.47 253.48 L3078.31 258.38 L3081.16 263.32 L3084.01 268.29 L3086.86 273.29 L3089.71 278.32 L3092.56 283.37 L3095.40 288.45 L3098.25 293.55 L3101.10 298.67 L3103.95 303.81 L3106.80 308.97 L3109.65 314.15 L3112.49 319.34 L3115.34 324.56 L3118.19 329.79 L3121.04 335.03 L3123.89 340.28 L3126.73 345.55 L3129.58 350.84 L3132.43 356.13 L3135.28 361.43 L3138.13 366.75 L3140.98 372.07 L3143.82 377.40 L3146.67 382.75 L3149.52 388.10 L3152.37 393.45 L3155.22 398.82 L3158.07 404.19 L3160.91 409.57 L3163.76 414.95 L3166.61 420.34 L3169.46 425.73 L3172.31 431.13 L3175.15 436.54 L3178.00 441.95 L3180.85 447.36 L3183.70 452.77 L3186.55 458.19 L3189.40 463.62 L3192.24 469.04 L3195.09 474.47 L3197.94 479.91 L3200.79 485.34 L3203.64 490.78 L3206.49 496.22 L3209.33 501.67 L3212.18 507.11 L3215.03 512.56 L3217.88 518.01 L3220.73 523.46 L3223.57 528.91 L3226.42 534.36 L3229.27 539.82 L3232.12 545.27 L3234.97 550.73 L3237.82 556.19 L3240.66 561.65 L3243.51 567.11 L3246.36 572.58 L3249.21 578.04 L3252.06 583.50 L3254.90 588.97 L3257.75 594.44 L3260.60 599.90 L3263.45 605.37 L3266.30 610.84 L3269.15 616.31 L3271.99 621.78 L3274.84 627.25 L3277.69 632.72 L3280.54 638.19 L3283.39 643.66 L3286.24 649.13 L3289.08 654.60 L3291.93 660.08 L3294.78 665.55 L3297.63 671.02 L3300.48 676.50 L3303.32 681.97 L3306.17 687.44 L3309.02 692.92 L3311.87 698.39 L3314.72 703.87 L3317.57 709.34 L3320.41 714.82 L3323.26 720.30 L3326.11 725.77 L3328.96 731.25 L3331.81 736.72 L3334.66 742.20 L3337.50 747.68 L3340.35 753.15 L3343.20 758.63 L3346.05 764.11 L3348.90 769.58 L3351.74 775.06 L3354.59 780.54 L3357.44 786.01 L3360.29 791.49 L3363.14 796.97 L3365.99 802.45 L3368.83 807.92 L3371.68 813.40 L3374.53 818.88 L3377.38 824.36 L3380.23 829.84 L3383.08 835.31 L3385.92 840.79 L3388.77 846.27 L3391.62 851.75 L3394.47 857.23 L3397.32 862.70 L3400.16 868.18 L3403.01 873.66 L3405.86 879.14 L3408.71 884.62 L3411.56 890.09 L3414.41 895.57 L3417.25 901.05 L3420.10 906.53 L3422.95 912.01 L3425.80 917.49 L3428.65 922.96 L3431.50 928.44 L3434.34 933.92 L3437.19 939.40" stroke="#ff0000" stroke-width="8.3" stroke-dasharray="20.9 20.8" stroke-dashoffset="42.00" stroke-linejoin="round"/>
<path d="M2313.01 964.05 L2315.69 960.18 L2318.37 956.32 L2321.05 952.45 L2323.73 948.58 L2326.41 944.72 L2329.09 940.85 L2331.77 936.98 L2334.45 933.12 L2337.13 929.25 L2339.81 925.39 L2342.49 921.52 L2345.17 917.65 L2347.86 913.79 L2350.54 909.92 L2353.22 906.05 L2355.90 902.19 L2358.58 898.32 L2361.26 894.45 L2363.94 890.59 L2366.62 886.72 L2369.30 882.85 L2371.98 878.99 L2374.66 875.12 L2377.34 871.25 L2380.02 867.39 L2382.70 863.52 L2385.38 859.65 L2388.06 855.79 L2390.74 851.92 L2393.42 848.05 L2396.10 844.19 L2398.78 840.32 L2401.46 836.46 L2404.14 832.59 L2406.82 828.72 L2409.50 824.86 L2412.18 820.99 L2414.86 817.12 L2417.54 813.26 L2420.22 809.39 L2422.90 805.52 L2425.58 801.66 L2428.26 797.79 L2430.94 793.92 L2433.62 790.06 L2436.30 786.19 L2438.98 782.33 L2441.66 778.46 L2444.34 774.59 L2447.02 770.73 L2449.70 766.86 L2452.38 762.99 L2455.06 759.13 L2457.74 755.26 L2460.42 751.40 L2463.10 747.53 L2465.78 743.66 L2468.46 739.80 L2471.14 735.93 L2473.82 732.07 L2476.50 728.20 L2479.18 724.33 L2481.86 720.47 L2484.54 716.60 L2487.22 712.74 L2489.90 708.87 L2492.58 705.00 L2495.26 701.14 L2497.94 697.27 L2500.62 693.41 L2503.30 689.54 L2505.98 685.68 L2508.66 681.81 L2511.34 677.95 L2514.02 674.08 L2516.70 670.22 L2519.39 666.35 L2522.07 662.48 L2524.75 658.62 L2527.43 654.76 L2530.11 650.89 L2532.79 647.03 L2535.47 643.16 L2538.15 639.30 L2540.83 635.43 L2543.51 631.57 L2546.19 627.70 L2548.87 623.84 L2551.55 619.98 L2554.23 616.11 L2556.91 612.25 L2559.59 608.39 L2562.27 604.52 L2564.95 600.66 L2567.63 596.80 L2570.31 592.94 L2572.99 589.07 L2575.67 585.21 L2578.35 581.35 L2581.03 577.49 L2583.71 573.63 L2586.39 569.77 L2589.07 565.91 L2591.75 562.05 L2594.43 558.19 L2597.11 554.33 L2599.79 550.47 L2602.47 546.62 L2605.15 542.76 L2607.83 538.90 L2610.51 535.04 L2613.19 531.19 L2615.87 527.33 L2618.55 523.48 L2621.23 519.63 L2623.91 515.77 L2626.59 511.92 L2629.27 508.07 L2631.95 504.22 L2634.63 500.37 L2637.31 496.52 L2639.99 492.68 L2642.67 488.83 L2645.35 484.99 L2648.03 481.14 L2650.71 477.30 L2653.39 473.46 L2656.07 469.62 L2658.75 465.78 L2661.43 461.95 L2664.11 458.11 L2666.79 454.28 L2669.47 450.45 L2672.15 446.62 L2674.83 442.80 L2677.51 438.98 L2680.19 435.16 L2682.87 431.34 L2685.55 427.52 L2688.23 423.71 L2690.91 419.90 L2693.60 416.10 L2696.28 412.30 L2698.96 408.50 L2701.64 404.71 L2704.32 400.92 L2707.00 397.13 L2709.68 393.35 L2712.36 389.58 L2715.04 385.81 L2717.72 382.05 L2720.40 378.29 L2723.08 374.54 L2725.76 370.79 L2728.44 367.06 L2731.12 363.33 L2733.80 359.61 L2736.48 355.89 L2739.16 352.19 L2741.84 348.50 L2744.52 344.81 L2747.20 341.14 L2749.88 337.48 L2752.56 333.83 L2755.24 330.19 L2757.92 326.56 L2760.60 322.95 L2763.28 319.36 L2765.96 315.78 L2768.64 312.21 L2771.32 308.67 L2774.00 305.14 L2776.68 301.63 L2779.36 298.14 L2782.04 294.67 L2784.72 291.23 L2787.40 287.81 L2790.08 284.41 L2792.76 281.04 L2795.44 277.70 L2798.12 274.39 L2800.80 271.11 L2803.48 267.86 L2806.16 264.65 L2808.84 261.47 L2811.52 258.33 L2814.20 255.23 L2816.88 252.17 L2819.56 249.15 L2822.24 246.18 L2824.92 243.26 L2827.60 240.38 L2830.28 237.56 L2832.96 234.80 L2835.64 232.09 L2838.32 229.44 L2841.00 226.85 L2843.68 224.33 L2846.36 221.87 L2849.04 219.49 L2851.72 217.17 L2854.40 214.94 L2857.08 212.78 L2859.76 210.70 L2862.44 208.71 L2865.12 206.81 L2867.81 204.99 L2870.49 203.27 L2873.17 201.64 L2875.85 200.12 L2878.53 198.69 L2881.21 197.37 L2883.89 196.16 L2886.57 195.05 L2889.25 194.06 L2891.93 193.18 L2894.61 192.42 L2897.29 191.78 L2899.97 191.25 L2902.65 190.85 L2905.33 190.58 L2908.01 190.43 L2910.69 190.40 L2913.37 190.51 L2916.05 190.74 L2918.73 191.11 L2921.41 191.60 L2924.09 192.22 L2926.77 192.98 L2929.45 193.86 L2932.13 194.87 L2934.81 196.02 L2937.49 197.29 L2940.17 198.68 L2942.85 200.21 L2945.53 201.86 L2948.21 203.63 L2950.89 205.52 L2953.57 207.53 L2956.25 209.66 L2958.93 211.91 L2961.61 214.27 L2964.29 216.74 L2966.97 219.31 L2969.65 221.99 L2972.33 224.77 L2975.01 227.66 L2977.69 230.64 L2980.37 233.71 L2983.05 236.88 L2985.73 240.13 L2988.41 243.47 L2991.09 246.89 L2993.77 250.39 L2996.45 253.96 L2999.13 257.62 L3001.81 261.34 L3004.49 265.13 L3007.17 268.98 L3009.85 272.90 L3012.53 276.88 L3015.21 280.92 L3017.89 285.01 L3020.57 289.16 L3023.25 293.35 L3025.93 297.60 L3028.61 301.89 L3031.29 306.22 L3033.97 310.60 L3036.65 315.02 L3039.33 319.47 L3042.02 323.96 L3044.70 328.49 L3047.38 333.05 L3050.06 337.64 L3052.74 342.26 L3055.42 346.91 L3058.10 351.58 L3060.78 356.29 L3063.46 361.01 L3066.14 365.76 L3068.82 370.53 L3071.50 375.32 L3074.18 380.13 L3076.86 384.96 L3079.54 389.81 L3082.22 394.67 L3084.90 399.55 L3087.58 404.45 L3090.26 409.36 L3092.94 414.28 L3095.62 419.22 L3098.30 424.16 L3100.98 429.12 L3103.66 434.09 L3106.34 439.07 L3109.02 444.06 L3111.70 449.06 L3114.38 454.07 L3117.06 459.08 L3119.74 464.11 L3122.42 469.14 L3125.10 474.18 L3127.78 479.22 L3130.46 484.27 L3133.14 489.33 L3135.82 494.39 L3138.50 499.45 L3141.18 504.53 L3143.86 509.60 L3146.54 514.68 L3149.22 519.77 L3151.90 524.86 L3154.58 529.95 L3157.26 535.05 L3159.94 540.15 L3162.62 545.25 L3165.30 550.35 L3167.98 555.46 L3170.66 560.57 L3173.34 565.69 L3176.02 570.80 L3178.70 575.92 L3181.38 581.04 L3184.06 586.16 L3186.74 591.29 L3189.42 596.41 L3192.10 601.54 L3194.78 606.67 L3197.46 611.80 L3200.14 616.93 L3202.82 622.06 L3205.50 627.20 L3208.18 632.33 L3210.86 637.47 L3213.54 642.61 L3216.23 647.75 L3218.91 652.89 L3221.59 658.03 L3224.27 663.17 L3226.95 668.31 L3229.63 673.45 L3232.31 678.60 L3234.99 683.74 L3237.67 688.89 L3240.35 694.03 L3243.03 699.18 L3245.71 704.32 L3248.39 709.47 L3251.07 714.62 L3253.75 719.77 L3256.43 724.91 L3259.11 730.06 L3261.79 735.21 L3264.47 740.36 L3267.15 745.51 L3269.83 750.66 L3272.51 755.81 L3275.19 760.96 L3277.87 766.11 L3280.55 771.27 L3283.23 776.42 L3285.91 781.57 L3288.59 786.72 L3291.27 791.87 L3293.95 797.02 L3296.63 802.18 L3299.31 807.33 L3301.99 812.48 L3304.67 817.64 L3307.35 822.79 L3310.03 827.94 L3312.71 833.10 L3315.39 838.25 L3318.07 843.40 L3320.75 848.56 L3323.43 853.71 L3326.11 858.86 L3328.79 864.02 L3331.47 869.17 L3334.15 874.33 L3336.83 879.48 L3339.51 884.63 L3342.19 889.79 L3344.87 894.94 L3347.55 900.10 L3350.23 905.25 L3352.91 910.41 L3355.59 915.56 L3358.27 920.72 L3360.95 925.87 L3363.63 931.03 L3366.31 936.18 L3368.99 941.33 L3371.67 946.49 L3374.35 951.64 L3377.03 956.80 L3379.71 961.95 L3382.39 967.11 L3385.07 972.26" stroke="#000" stroke-width="10.4" stroke-linejoin="round"/>
</g>
<path d="M2219.65 13.83V940.83" stroke="#000" stroke-width="2.4" fill="none"/>
<path d="M3714.90 13.83V940.83" stroke="#000" stroke-width="3.2" fill="none"/>
<path d="M2218.45 15.05H3716.50" stroke="#000" stroke-width="2.45" fill="none"/>
<path d="M2218.45 939.35H3716.50" stroke="#000" stroke-width="2.95" fill="none"/>
<path d="M2433.39 939.4 v-10.9 M2433.39 15.0 v10.9 M2646.97 939.4 v-15.2 M2646.97 15.0 v15.2 M2860.56 939.4 v-10.9 M2860.56 15.0 v10.9 M3074.14 939.4 v-15.2 M3074.14 15.0 v15.2 M3287.73 939.4 v-10.9 M3287.73 15.0 v10.9 M3501.31 939.4 v-15.2 M3501.31 15.0 v15.2 M2219.8 836.69 h10.9 M3714.9 836.69 h-10.9 M2219.8 733.98 h15.2 M3714.9 733.98 h-15.2 M2219.8 631.27 h10.9 M3714.9 631.27 h-10.9 M2219.8 528.56 h15.2 M3714.9 528.56 h-15.2 M2219.8 425.84 h10.9 M3714.9 425.84 h-10.9 M2219.8 323.13 h15.2 M3714.9 323.13 h-15.2 M2219.8 220.42 h10.9 M3714.9 220.42 h-10.9 M2219.8 117.71 h15.2 M3714.9 117.71 h-15.2" stroke="#000" stroke-width="2.7" fill="none"/>
<text transform="translate(2043.53,150.91) scale(0.9964,1.0000)" font-size="71.65">10</text>
<rect x="2122.40" y="105.46" width="22.40" height="2.30"/>
<text transform="translate(2148.80,118.11) scale(1.0035,1.0000)" font-size="51.05">12</text>
<text transform="translate(2043.53,356.33) scale(0.9964,1.0000)" font-size="71.65">10</text>
<rect x="2122.40" y="310.88" width="22.40" height="2.30"/>
<text transform="translate(2148.91,323.53) scale(0.9789,1.0000)" font-size="51.05">14</text>
<text transform="translate(2043.53,561.76) scale(0.9964,1.0000)" font-size="71.65">10</text>
<rect x="2122.40" y="516.31" width="22.40" height="2.30"/>
<text transform="translate(2148.93,528.96) scale(0.9747,1.0000)" font-size="51.05">16</text>
<text transform="translate(2043.53,767.18) scale(0.9964,1.0000)" font-size="71.65">10</text>
<rect x="2122.40" y="721.73" width="22.40" height="2.30"/>
<text transform="translate(2148.89,734.38) scale(0.9839,1.0000)" font-size="51.05">18</text>
<text transform="translate(2043.53,972.60) scale(0.9964,1.0000)" font-size="71.65">10</text>
<rect x="2122.40" y="927.15" width="22.40" height="2.30"/>
<text transform="translate(2152.44,939.80) scale(0.9176,1.0000)" font-size="51.05">20</text>
<text transform="translate(2152.15,1042.80) scale(0.9932,1.0000)" font-size="71.65">10</text>
<rect x="2230.80" y="997.35" width="22.40" height="2.30"/>
<text transform="translate(2258.30,1010.00) scale(0.9583,1.0000)" font-size="51.05">6</text>
<text transform="translate(2579.32,1042.80) scale(0.9932,1.0000)" font-size="71.65">10</text>
<rect x="2657.97" y="997.35" width="22.40" height="2.30"/>
<text transform="translate(2685.81,1010.00) scale(0.9693,1.0000)" font-size="51.05">4</text>
<text transform="translate(3006.48,1042.60) scale(0.9953,1.0000)" font-size="71.65">0.01</text>
<text transform="translate(3482.63,1042.60) scale(0.9634,1.0000)" font-size="71.65">1</text>
<path d="M2895.17 1127.40 L2895.06 1127.23 L2894.93 1127.02 L2894.78 1126.76 L2894.61 1126.45 L2894.41 1126.11 L2894.20 1125.74 L2893.97 1125.36 L2893.73 1124.97 L2893.47 1124.59 L2893.20 1124.21 L2892.90 1123.84 L2892.59 1123.50 L2892.26 1123.19 L2891.90 1122.92 L2891.54 1122.70 L2891.18 1122.51 L2890.79 1122.34 L2890.40 1122.19 L2889.99 1122.06 L2889.57 1121.95 L2889.15 1121.85 L2888.72 1121.78 L2888.29 1121.72 L2887.86 1121.69 L2887.42 1121.67 L2886.99 1121.68 L2886.57 1121.71 L2886.15 1121.77 L2885.76 1121.84 L2885.36 1121.92 L2884.97 1122.03 L2884.56 1122.15 L2884.16 1122.30 L2883.75 1122.48 L2883.34 1122.68 L2882.93 1122.92 L2882.53 1123.19 L2882.13 1123.49 L2881.74 1123.83 L2881.36 1124.21 L2880.99 1124.62 L2880.64 1125.07 L2880.31 1125.54 L2879.99 1126.04 L2879.69 1126.56 L2879.40 1127.10 L2879.12 1127.67 L2878.86 1128.26 L2878.60 1128.87 L2878.35 1129.50 L2878.11 1130.16 L2877.87 1130.84 L2877.63 1131.55 L2877.40 1132.28 L2877.18 1133.04 L2876.95 1133.84 L2876.72 1134.68 L2876.50 1135.56 L2876.29 1136.47 L2876.09 1137.40 L2875.89 1138.36 L2875.70 1139.34 L2875.50 1140.35 L2875.31 1141.38 L2875.12 1142.43 L2874.93 1143.50 L2874.74 1144.58 L2874.54 1145.68 L2874.33 1146.80 L2874.12 1147.93 L2873.90 1149.10 L2873.68 1150.31 L2873.45 1151.55 L2873.22 1152.82 L2872.98 1154.12 L2872.75 1155.43 L2872.51 1156.76 L2872.27 1158.10 L2872.03 1159.45 L2871.79 1160.80 L2871.55 1162.14 L2871.31 1163.48 L2871.07 1164.80 L2870.84 1166.11 L2870.60 1167.43 L2870.36 1168.77 L2870.12 1170.14 L2869.88 1171.52 L2869.63 1172.90 L2869.39 1174.28 L2869.15 1175.65 L2868.91 1177.00 L2868.68 1178.32 L2868.44 1179.61 L2868.22 1180.85 L2867.99 1182.04 L2867.77 1183.17 L2867.56 1184.24 L2867.36 1185.26 L2867.16 1186.24 L2866.97 1187.16 L2866.79 1188.05 L2866.61 1188.89 L2866.43 1189.70 L2866.26 1190.48 L2866.09 1191.22 L2865.91 1191.94 L2865.74 1192.63 L2865.56 1193.30 L2865.38 1193.96 L2865.19 1194.61 L2864.99 1195.24 L2864.79 1195.87 L2864.59 1196.48 L2864.38 1197.07 L2864.17 1197.65 L2863.95 1198.22 L2863.73 1198.76 L2863.51 1199.28 L2863.29 1199.78 L2863.06 1200.26 L2862.83 1200.71 L2862.59 1201.13 L2862.36 1201.53 L2862.12 1201.89 L2861.88 1202.21 L2861.65 1202.49 L2861.42 1202.73 L2861.19 1202.95 L2860.96 1203.13 L2860.72 1203.29 L2860.48 1203.43 L2860.24 1203.55 L2859.99 1203.65 L2859.73 1203.73 L2859.47 1203.80 L2859.21 1203.85 L2858.93 1203.89 L2858.65 1203.92 L2858.38 1203.95 L2858.11 1203.96 L2857.84 1203.95 L2857.55 1203.92 L2857.25 1203.87 L2856.94 1203.80 L2856.63 1203.71 L2856.32 1203.61 L2856.01 1203.49 L2855.71 1203.37 L2855.42 1203.23 L2855.14 1203.09 L2854.87 1202.94 L2854.63 1202.79 L2854.41 1202.64 L2854.22 1202.50 L2854.04 1202.32 L2853.86 1202.12 L2853.67 1201.89 L2853.50 1201.64 L2853.32 1201.38 L2853.16 1201.11 L2853.00 1200.84 L2852.85 1200.58 L2852.71 1200.32 L2852.58 1200.08 L2852.46 1199.86 L2852.34 1199.66 L2852.23 1199.50 L2850.83 1200.42 L2850.91 1200.54 L2851.00 1200.69 L2851.11 1200.90 L2851.24 1201.13 L2851.39 1201.39 L2851.55 1201.68 L2851.73 1201.97 L2851.92 1202.28 L2852.12 1202.59 L2852.34 1202.90 L2852.58 1203.20 L2852.84 1203.49 L2853.12 1203.76 L2853.41 1204.00 L2853.71 1204.20 L2854.01 1204.39 L2854.33 1204.57 L2854.67 1204.75 L2855.01 1204.92 L2855.37 1205.07 L2855.74 1205.22 L2856.11 1205.35 L2856.49 1205.47 L2856.87 1205.57 L2857.26 1205.65 L2857.65 1205.72 L2858.03 1205.76 L2858.41 1205.77 L2858.76 1205.77 L2859.11 1205.75 L2859.46 1205.72 L2859.82 1205.68 L2860.19 1205.61 L2860.55 1205.53 L2860.93 1205.42 L2861.30 1205.29 L2861.68 1205.13 L2862.06 1204.94 L2862.44 1204.72 L2862.82 1204.47 L2863.21 1204.18 L2863.59 1203.87 L2863.97 1203.53 L2864.35 1203.17 L2864.73 1202.78 L2865.12 1202.37 L2865.51 1201.93 L2865.91 1201.46 L2866.30 1200.97 L2866.69 1200.45 L2867.08 1199.90 L2867.46 1199.34 L2867.83 1198.74 L2868.19 1198.13 L2868.54 1197.49 L2868.88 1196.83 L2869.20 1196.16 L2869.51 1195.47 L2869.81 1194.78 L2870.10 1194.06 L2870.38 1193.33 L2870.66 1192.57 L2870.92 1191.79 L2871.19 1190.99 L2871.45 1190.15 L2871.71 1189.28 L2871.96 1188.38 L2872.22 1187.44 L2872.49 1186.45 L2872.75 1185.42 L2873.03 1184.32 L2873.30 1183.16 L2873.57 1181.94 L2873.85 1180.68 L2874.12 1179.37 L2874.39 1178.04 L2874.67 1176.68 L2874.94 1175.31 L2875.20 1173.93 L2875.47 1172.54 L2875.73 1171.16 L2875.98 1169.80 L2876.24 1168.46 L2876.48 1167.14 L2876.73 1165.83 L2876.97 1164.50 L2877.21 1163.15 L2877.45 1161.80 L2877.69 1160.45 L2877.92 1159.10 L2878.15 1157.75 L2878.38 1156.42 L2878.60 1155.10 L2878.82 1153.80 L2879.03 1152.53 L2879.24 1151.29 L2879.44 1150.08 L2879.64 1148.90 L2879.83 1147.75 L2880.01 1146.61 L2880.19 1145.49 L2880.36 1144.40 L2880.52 1143.32 L2880.68 1142.27 L2880.83 1141.25 L2880.98 1140.26 L2881.13 1139.30 L2881.27 1138.36 L2881.42 1137.47 L2881.56 1136.61 L2881.71 1135.78 L2881.86 1134.99 L2882.00 1134.21 L2882.15 1133.46 L2882.28 1132.75 L2882.41 1132.06 L2882.54 1131.41 L2882.67 1130.79 L2882.79 1130.21 L2882.92 1129.65 L2883.05 1129.13 L2883.18 1128.63 L2883.32 1128.17 L2883.46 1127.73 L2883.61 1127.33 L2883.76 1126.95 L2883.92 1126.60 L2884.08 1126.28 L2884.25 1125.97 L2884.42 1125.69 L2884.60 1125.43 L2884.79 1125.19 L2884.99 1124.96 L2885.19 1124.75 L2885.41 1124.55 L2885.64 1124.37 L2885.88 1124.20 L2886.13 1124.05 L2886.39 1123.92 L2886.66 1123.81 L2886.92 1123.72 L2887.20 1123.65 L2887.51 1123.60 L2887.83 1123.58 L2888.16 1123.58 L2888.50 1123.59 L2888.84 1123.63 L2889.18 1123.69 L2889.52 1123.76 L2889.85 1123.85 L2890.17 1123.96 L2890.47 1124.08 L2890.75 1124.20 L2890.99 1124.33 L2891.21 1124.48 L2891.44 1124.68 L2891.68 1124.92 L2891.92 1125.20 L2892.17 1125.52 L2892.40 1125.85 L2892.63 1126.20 L2892.85 1126.55 L2893.06 1126.90 L2893.25 1127.23 L2893.43 1127.54 L2893.60 1127.82 L2893.76 1128.07 L2893.89 1128.26Z"/>
<path d="M2887.38 1129.09a4.06 4.06 0 1 0 8.12 0a4.06 4.06 0 1 0 -8.12 0Z"/>
<path d="M2850.69 1198.56a4.20 4.20 0 1 0 8.40 0a4.20 4.20 0 1 0 -8.40 0Z"/>
<path d="M2865.12 1147.30H2889.63V1149.54H2865.12Z"/>
<rect x="2968.30" y="1124.30" width="7.70" height="62.70"/>
<rect x="2960.20" y="1124.30" width="24.90" height="2.90"/>
<rect x="2960.20" y="1184.10" width="24.90" height="2.90"/>
<path d="M2965.10 1127.20Q2968.30 1127.20 2968.30 1131.20V1127.20Z"/>
<path d="M2979.20 1127.20Q2976.00 1127.20 2976.00 1131.20V1127.20Z"/>
<path d="M2965.10 1184.10Q2968.30 1184.10 2968.30 1180.10V1184.10Z"/>
<path d="M2979.20 1184.10Q2976.00 1184.10 2976.00 1180.10V1184.10Z"/>
<rect x="3004.10" y="1124.30" width="7.80" height="62.70"/>
<rect x="2995.10" y="1124.30" width="24.90" height="2.90"/>
<rect x="2995.10" y="1184.10" width="24.90" height="2.90"/>
<path d="M3000.90 1127.20Q3004.10 1127.20 3004.10 1131.20V1127.20Z"/>
<path d="M3015.10 1127.20Q3011.90 1127.20 3011.90 1131.20V1127.20Z"/>
<path d="M3000.90 1184.10Q3004.10 1184.10 3004.10 1180.10V1184.10Z"/>
<path d="M3015.10 1184.10Q3011.90 1184.10 3011.90 1180.10V1184.10Z"/>
<rect x="2975.90" y="1153.00" width="28.30" height="2.90"/>
<text transform="translate(3023.68,1187.10) scale(0.9982,1.0000)" font-size="86.50">z</text>
<rect x="2941.10" y="1118.10" width="3.00" height="91.80"/>
<rect x="2941.10" y="1118.10" width="12.00" height="3.30"/>
<rect x="2941.10" y="1206.60" width="12.00" height="3.30"/>
<rect x="3075.20" y="1118.10" width="3.00" height="91.80"/>
<rect x="3066.20" y="1118.10" width="12.00" height="3.30"/>
<rect x="3066.20" y="1206.60" width="12.00" height="3.30"/>
<path d="M1937.88 598.75 L1937.66 598.63 L1937.38 598.49 L1937.06 598.34 L1936.71 598.17 L1936.33 597.98 L1935.93 597.78 L1935.51 597.57 L1935.08 597.35 L1934.65 597.12 L1934.23 596.87 L1933.82 596.62 L1933.44 596.37 L1933.08 596.11 L1932.76 595.84 L1932.45 595.56 L1932.15 595.27 L1931.84 594.95 L1931.55 594.63 L1931.26 594.29 L1930.97 593.94 L1930.69 593.59 L1930.42 593.23 L1930.16 592.86 L1929.91 592.49 L1929.67 592.12 L1929.45 591.75 L1929.23 591.39 L1929.04 591.03 L1928.85 590.67 L1928.68 590.31 L1928.51 589.94 L1928.36 589.57 L1928.22 589.20 L1928.09 588.83 L1927.96 588.45 L1927.85 588.08 L1927.75 587.71 L1927.66 587.34 L1927.58 586.98 L1927.51 586.62 L1927.45 586.27 L1927.40 585.92 L1927.36 585.59 L1927.32 585.26 L1927.30 584.93 L1927.29 584.62 L1927.28 584.30 L1927.29 584.00 L1927.30 583.70 L1927.33 583.41 L1927.37 583.12 L1927.41 582.84 L1927.47 582.57 L1927.54 582.31 L1927.62 582.06 L1927.71 581.81 L1927.82 581.55 L1927.94 581.30 L1928.06 581.05 L1928.20 580.81 L1928.34 580.58 L1928.50 580.35 L1928.66 580.14 L1928.82 579.94 L1928.99 579.76 L1929.17 579.59 L1929.34 579.44 L1929.51 579.31 L1929.69 579.20 L1929.86 579.11 L1930.04 579.02 L1930.24 578.93 L1930.45 578.85 L1930.67 578.78 L1930.90 578.71 L1931.14 578.65 L1931.38 578.60 L1931.63 578.55 L1931.88 578.52 L1932.13 578.48 L1932.39 578.45 L1932.65 578.43 L1932.91 578.42 L1933.18 578.40 L1933.47 578.39 L1933.76 578.38 L1934.06 578.38 L1934.36 578.38 L1934.66 578.38 L1934.98 578.40 L1935.29 578.42 L1935.61 578.44 L1935.94 578.48 L1936.27 578.52 L1936.61 578.57 L1936.95 578.64 L1937.30 578.71 L1937.64 578.79 L1937.98 578.88 L1938.35 578.99 L1938.74 579.12 L1939.17 579.27 L1939.62 579.44 L1940.09 579.62 L1940.57 579.81 L1941.07 580.01 L1941.59 580.22 L1942.11 580.44 L1942.64 580.66 L1943.18 580.88 L1943.73 581.10 L1944.26 581.30 L1944.76 581.50 L1945.26 581.70 L1945.76 581.90 L1946.28 582.11 L1946.80 582.33 L1947.32 582.55 L1947.85 582.77 L1948.39 582.99 L1948.92 583.21 L1949.46 583.42 L1950.00 583.62 L1950.54 583.81 L1951.08 584.00 L1951.59 584.16 L1952.07 584.30 L1952.53 584.44 L1952.99 584.58 L1953.46 584.72 L1953.93 584.85 L1954.41 584.98 L1954.89 585.09 L1955.38 585.20 L1955.88 585.29 L1956.38 585.37 L1956.90 585.43 L1957.42 585.46 L1957.95 585.47 L1958.48 585.45 L1959.00 585.39 L1959.50 585.30 L1959.98 585.19 L1960.45 585.05 L1960.90 584.88 L1961.34 584.70 L1961.75 584.50 L1962.15 584.29 L1962.53 584.06 L1962.89 583.82 L1963.23 583.57 L1963.56 583.32 L1963.86 583.05 L1964.16 582.78 L1964.45 582.49 L1964.72 582.19 L1964.96 581.87 L1965.19 581.54 L1965.39 581.21 L1965.57 580.88 L1965.73 580.54 L1965.88 580.20 L1966.01 579.86 L1966.12 579.53 L1966.21 579.19 L1966.29 578.86 L1966.36 578.53 L1966.40 578.20 L1966.44 577.87 L1966.45 577.54 L1966.45 577.21 L1966.43 576.89 L1966.40 576.56 L1966.36 576.24 L1966.30 575.93 L1966.23 575.61 L1966.16 575.30 L1966.07 574.99 L1965.97 574.69 L1965.86 574.39 L1965.74 574.10 L1965.61 573.81 L1965.48 573.53 L1965.33 573.25 L1965.17 572.96 L1965.01 572.68 L1964.83 572.40 L1964.64 572.13 L1964.44 571.85 L1964.23 571.58 L1964.02 571.31 L1963.79 571.05 L1963.55 570.80 L1963.30 570.55 L1963.05 570.30 L1962.78 570.07 L1962.50 569.84 L1962.20 569.62 L1961.90 569.40 L1961.58 569.19 L1961.25 568.99 L1960.92 568.79 L1960.57 568.59 L1960.22 568.40 L1959.87 568.22 L1959.51 568.04 L1959.15 567.87 L1958.79 567.71 L1958.43 567.56 L1958.06 567.41 L1957.67 567.26 L1957.26 567.12 L1956.83 566.99 L1956.38 566.86 L1955.93 566.74 L1955.48 566.63 L1955.03 566.52 L1954.60 566.42 L1954.18 566.33 L1953.80 566.25 L1953.44 566.17 L1953.13 566.10 L1952.86 566.04 L1952.64 565.98 L1952.44 566.81 L1952.66 566.86 L1952.93 566.93 L1953.25 567.00 L1953.61 567.09 L1953.99 567.18 L1954.40 567.27 L1954.83 567.38 L1955.26 567.49 L1955.70 567.60 L1956.14 567.72 L1956.57 567.85 L1956.98 567.98 L1957.36 568.12 L1957.72 568.25 L1958.07 568.40 L1958.41 568.55 L1958.76 568.71 L1959.11 568.88 L1959.45 569.05 L1959.79 569.23 L1960.12 569.41 L1960.44 569.60 L1960.75 569.79 L1961.06 569.99 L1961.35 570.19 L1961.63 570.39 L1961.89 570.60 L1962.14 570.81 L1962.37 571.03 L1962.60 571.25 L1962.82 571.48 L1963.03 571.72 L1963.23 571.96 L1963.42 572.21 L1963.61 572.45 L1963.77 572.71 L1963.93 572.96 L1964.08 573.22 L1964.21 573.48 L1964.33 573.74 L1964.43 573.99 L1964.52 574.25 L1964.60 574.50 L1964.67 574.77 L1964.73 575.03 L1964.78 575.30 L1964.81 575.56 L1964.84 575.83 L1964.85 576.09 L1964.84 576.35 L1964.82 576.60 L1964.79 576.84 L1964.74 577.07 L1964.68 577.29 L1964.61 577.50 L1964.51 577.69 L1964.41 577.88 L1964.28 578.07 L1964.14 578.25 L1963.99 578.44 L1963.82 578.61 L1963.64 578.78 L1963.46 578.94 L1963.26 579.08 L1963.06 579.21 L1962.86 579.33 L1962.66 579.43 L1962.46 579.51 L1962.26 579.58 L1962.06 579.63 L1961.85 579.68 L1961.61 579.73 L1961.37 579.76 L1961.12 579.79 L1960.86 579.81 L1960.60 579.82 L1960.34 579.81 L1960.08 579.80 L1959.82 579.78 L1959.56 579.76 L1959.31 579.72 L1959.07 579.68 L1958.83 579.63 L1958.60 579.58 L1958.38 579.52 L1958.15 579.45 L1957.89 579.37 L1957.61 579.28 L1957.31 579.18 L1956.99 579.07 L1956.65 578.95 L1956.28 578.82 L1955.90 578.68 L1955.50 578.53 L1955.08 578.37 L1954.65 578.20 L1954.19 578.03 L1953.75 577.86 L1953.32 577.70 L1952.89 577.53 L1952.44 577.34 L1951.97 577.15 L1951.48 576.95 L1950.98 576.74 L1950.47 576.52 L1949.95 576.30 L1949.42 576.07 L1948.89 575.85 L1948.34 575.62 L1947.80 575.40 L1947.25 575.18 L1946.72 574.98 L1946.22 574.78 L1945.72 574.58 L1945.21 574.38 L1944.69 574.16 L1944.15 573.94 L1943.61 573.72 L1943.06 573.50 L1942.50 573.29 L1941.93 573.08 L1941.35 572.89 L1940.77 572.70 L1940.18 572.54 L1939.58 572.39 L1938.99 572.27 L1938.41 572.18 L1937.86 572.11 L1937.31 572.07 L1936.78 572.04 L1936.25 572.02 L1935.73 572.03 L1935.22 572.06 L1934.72 572.10 L1934.23 572.15 L1933.76 572.23 L1933.29 572.31 L1932.84 572.41 L1932.40 572.53 L1931.96 572.66 L1931.53 572.81 L1931.10 572.97 L1930.68 573.16 L1930.27 573.36 L1929.87 573.58 L1929.49 573.81 L1929.12 574.06 L1928.76 574.32 L1928.42 574.59 L1928.09 574.88 L1927.78 575.17 L1927.48 575.48 L1927.20 575.80 L1926.93 576.13 L1926.68 576.48 L1926.45 576.84 L1926.24 577.21 L1926.06 577.58 L1925.90 577.95 L1925.76 578.32 L1925.64 578.70 L1925.53 579.07 L1925.44 579.45 L1925.36 579.82 L1925.30 580.18 L1925.24 580.55 L1925.20 580.91 L1925.16 581.26 L1925.14 581.62 L1925.12 581.98 L1925.12 582.34 L1925.13 582.70 L1925.15 583.06 L1925.18 583.42 L1925.22 583.77 L1925.26 584.13 L1925.32 584.49 L1925.39 584.84 L1925.46 585.20 L1925.55 585.56 L1925.64 585.92 L1925.74 586.28 L1925.85 586.64 L1925.96 587.01 L1926.08 587.39 L1926.21 587.77 L1926.35 588.15 L1926.50 588.54 L1926.66 588.93 L1926.82 589.32 L1927.00 589.71 L1927.18 590.10 L1927.38 590.48 L1927.58 590.86 L1927.79 591.24 L1928.02 591.62 L1928.25 591.98 L1928.50 592.36 L1928.75 592.73 L1929.02 593.11 L1929.29 593.49 L1929.57 593.86 L1929.87 594.23 L1930.17 594.60 L1930.48 594.96 L1930.79 595.31 L1931.12 595.65 L1931.45 595.98 L1931.78 596.29 L1932.13 596.59 L1932.49 596.88 L1932.89 597.16 L1933.31 597.43 L1933.75 597.69 L1934.20 597.94 L1934.64 598.18 L1935.09 598.41 L1935.52 598.62 L1935.93 598.82 L1936.31 599.00 L1936.67 599.17 L1936.98 599.32 L1937.24 599.44 L1937.45 599.55Z"/>
<path d="M1902.10 589.36 L1964.42 605.02 L1966.24 606.46 L1966.63 608.42 L1965.33 610.11 L1963.11 610.24 L1906.01 596.41 L1905.56 602.41 L1904.25 603.20 L1902.95 602.41Z"/>
<text transform="translate(1865.90,0.00) rotate(-90) translate(-562.91,62.20) scale(1.0466,1.0000)" font-size="61.02">2</text>
<path d="M1961.09 482.55 L1960.77 482.36 L1960.36 482.13 L1959.90 481.86 L1959.38 481.56 L1958.81 481.23 L1958.21 480.88 L1957.58 480.52 L1956.93 480.14 L1956.28 479.75 L1955.62 479.36 L1954.98 478.97 L1954.36 478.58 L1953.77 478.21 L1953.22 477.85 L1952.70 477.50 L1952.18 477.13 L1951.66 476.76 L1951.15 476.38 L1950.64 476.00 L1950.12 475.61 L1949.61 475.22 L1949.09 474.83 L1948.56 474.43 L1948.03 474.04 L1947.49 473.65 L1946.94 473.27 L1946.38 472.89 L1945.82 472.53 L1945.28 472.18 L1944.75 471.83 L1944.21 471.48 L1943.66 471.14 L1943.11 470.79 L1942.55 470.44 L1941.98 470.10 L1941.40 469.76 L1940.81 469.43 L1940.21 469.11 L1939.60 468.79 L1938.98 468.49 L1938.35 468.19 L1937.72 467.92 L1937.11 467.67 L1936.52 467.43 L1935.91 467.20 L1935.29 466.98 L1934.67 466.76 L1934.04 466.56 L1933.40 466.37 L1932.75 466.19 L1932.09 466.02 L1931.43 465.87 L1930.75 465.73 L1930.07 465.61 L1929.38 465.51 L1928.70 465.43 L1928.03 465.38 L1927.37 465.33 L1926.70 465.31 L1926.03 465.29 L1925.35 465.29 L1924.67 465.32 L1923.99 465.35 L1923.30 465.41 L1922.61 465.49 L1921.92 465.59 L1921.23 465.71 L1920.55 465.86 L1919.86 466.03 L1919.19 466.23 L1918.53 466.45 L1917.89 466.70 L1917.26 466.97 L1916.64 467.26 L1916.03 467.58 L1915.43 467.91 L1914.85 468.26 L1914.28 468.62 L1913.73 468.99 L1913.19 469.38 L1912.66 469.77 L1912.14 470.18 L1911.64 470.59 L1911.14 471.01 L1910.66 471.44 L1910.19 471.88 L1909.73 472.34 L1909.28 472.80 L1908.85 473.28 L1908.42 473.76 L1908.01 474.25 L1907.61 474.75 L1907.22 475.26 L1906.85 475.78 L1906.49 476.30 L1906.14 476.83 L1905.80 477.36 L1905.47 477.91 L1905.16 478.47 L1904.85 479.04 L1904.56 479.62 L1904.28 480.21 L1904.02 480.81 L1903.76 481.41 L1903.52 482.01 L1903.29 482.62 L1903.07 483.22 L1902.87 483.82 L1902.67 484.41 L1902.48 484.99 L1902.31 485.57 L1902.15 486.13 L1902.00 486.69 L1901.85 487.24 L1901.72 487.80 L1901.59 488.35 L1901.47 488.90 L1901.37 489.45 L1901.27 490.00 L1901.19 490.55 L1901.11 491.10 L1901.05 491.65 L1901.00 492.21 L1900.97 492.76 L1900.95 493.31 L1900.94 493.87 L1900.95 494.43 L1900.97 494.98 L1901.00 495.54 L1901.05 496.09 L1901.11 496.64 L1901.19 497.19 L1901.27 497.74 L1901.37 498.29 L1901.47 498.84 L1901.59 499.39 L1901.72 499.94 L1901.85 500.50 L1902.00 501.05 L1902.15 501.61 L1902.31 502.17 L1902.48 502.75 L1902.67 503.33 L1902.87 503.93 L1903.07 504.52 L1903.29 505.12 L1903.52 505.73 L1903.76 506.33 L1904.02 506.93 L1904.28 507.53 L1904.56 508.12 L1904.85 508.70 L1905.16 509.28 L1905.47 509.83 L1905.80 510.38 L1906.14 510.91 L1906.49 511.44 L1906.85 511.96 L1907.22 512.48 L1907.61 512.99 L1908.01 513.49 L1908.42 513.98 L1908.85 514.47 L1909.28 514.94 L1909.73 515.41 L1910.19 515.86 L1910.66 516.30 L1911.14 516.73 L1911.64 517.15 L1912.14 517.56 L1912.66 517.97 L1913.19 518.36 L1913.73 518.75 L1914.28 519.12 L1914.85 519.49 L1915.43 519.83 L1916.03 520.16 L1916.64 520.48 L1917.26 520.77 L1917.89 521.04 L1918.53 521.29 L1919.19 521.51 L1919.86 521.71 L1920.55 521.88 L1921.23 522.03 L1921.92 522.15 L1922.61 522.25 L1923.30 522.33 L1923.99 522.39 L1924.67 522.43 L1925.35 522.45 L1926.03 522.45 L1926.70 522.44 L1927.37 522.41 L1928.03 522.37 L1928.70 522.31 L1929.38 522.23 L1930.07 522.13 L1930.75 522.01 L1931.43 521.87 L1932.09 521.72 L1932.75 521.56 L1933.40 521.38 L1934.04 521.18 L1934.67 520.98 L1935.29 520.76 L1935.91 520.54 L1936.52 520.31 L1937.11 520.07 L1937.72 519.82 L1938.35 519.55 L1938.98 519.25 L1939.60 518.95 L1940.21 518.63 L1940.81 518.31 L1941.40 517.98 L1941.98 517.64 L1942.55 517.30 L1943.11 516.95 L1943.66 516.61 L1944.21 516.26 L1944.75 515.91 L1945.28 515.56 L1945.82 515.22 L1946.38 514.85 L1946.94 514.47 L1947.49 514.09 L1948.03 513.70 L1948.56 513.31 L1949.09 512.92 L1949.61 512.52 L1950.12 512.13 L1950.64 511.74 L1951.15 511.36 L1951.66 510.98 L1952.18 510.61 L1952.70 510.25 L1953.22 509.89 L1953.77 509.54 L1954.36 509.16 L1954.98 508.78 L1955.62 508.38 L1956.28 507.99 L1956.93 507.60 L1957.58 507.22 L1958.21 506.86 L1958.81 506.51 L1959.38 506.18 L1959.90 505.88 L1960.36 505.61 L1960.77 505.38 L1961.09 505.19 L1960.55 503.84 L1960.18 503.93 L1959.74 504.04 L1959.22 504.16 L1958.63 504.29 L1957.99 504.44 L1957.31 504.60 L1956.60 504.77 L1955.86 504.95 L1955.11 505.13 L1954.35 505.32 L1953.61 505.51 L1952.87 505.70 L1952.16 505.89 L1951.49 506.07 L1950.83 506.26 L1950.18 506.46 L1949.53 506.65 L1948.88 506.85 L1948.25 507.05 L1947.61 507.26 L1946.98 507.46 L1946.36 507.66 L1945.74 507.86 L1945.13 508.05 L1944.53 508.25 L1943.93 508.44 L1943.35 508.63 L1942.75 508.82 L1942.14 509.02 L1941.52 509.23 L1940.91 509.44 L1940.30 509.65 L1939.70 509.86 L1939.11 510.06 L1938.53 510.26 L1937.96 510.46 L1937.39 510.65 L1936.84 510.83 L1936.30 511.00 L1935.77 511.17 L1935.25 511.32 L1934.72 511.47 L1934.18 511.62 L1933.63 511.78 L1933.08 511.93 L1932.54 512.08 L1932.01 512.23 L1931.49 512.36 L1930.98 512.50 L1930.48 512.62 L1929.98 512.73 L1929.50 512.84 L1929.02 512.94 L1928.55 513.03 L1928.09 513.11 L1927.62 513.18 L1927.13 513.24 L1926.63 513.30 L1926.13 513.36 L1925.63 513.41 L1925.14 513.45 L1924.65 513.49 L1924.16 513.52 L1923.69 513.54 L1923.22 513.55 L1922.76 513.56 L1922.30 513.55 L1921.86 513.54 L1921.43 513.52 L1921.00 513.49 L1920.56 513.44 L1920.11 513.39 L1919.66 513.33 L1919.19 513.26 L1918.72 513.17 L1918.25 513.07 L1917.77 512.96 L1917.30 512.84 L1916.82 512.70 L1916.35 512.55 L1915.88 512.39 L1915.42 512.21 L1914.97 512.02 L1914.53 511.82 L1914.09 511.60 L1913.66 511.36 L1913.24 511.11 L1912.81 510.84 L1912.39 510.56 L1911.97 510.26 L1911.56 509.95 L1911.16 509.62 L1910.76 509.28 L1910.37 508.93 L1909.99 508.57 L1909.62 508.20 L1909.25 507.81 L1908.91 507.42 L1908.57 507.02 L1908.24 506.60 L1907.92 506.16 L1907.60 505.70 L1907.29 505.22 L1906.99 504.73 L1906.70 504.23 L1906.41 503.72 L1906.14 503.21 L1905.88 502.69 L1905.64 502.17 L1905.40 501.66 L1905.18 501.15 L1904.97 500.65 L1904.78 500.15 L1904.59 499.66 L1904.42 499.17 L1904.26 498.68 L1904.11 498.20 L1903.98 497.71 L1903.86 497.23 L1903.75 496.75 L1903.66 496.27 L1903.58 495.79 L1903.52 495.31 L1903.48 494.83 L1903.45 494.35 L1903.44 493.87 L1903.45 493.39 L1903.48 492.91 L1903.52 492.43 L1903.58 491.96 L1903.66 491.48 L1903.75 490.99 L1903.86 490.51 L1903.98 490.03 L1904.11 489.55 L1904.26 489.06 L1904.42 488.57 L1904.59 488.08 L1904.78 487.59 L1904.97 487.09 L1905.18 486.59 L1905.40 486.08 L1905.64 485.57 L1905.88 485.05 L1906.14 484.53 L1906.41 484.02 L1906.70 483.51 L1906.99 483.01 L1907.29 482.52 L1907.60 482.04 L1907.92 481.58 L1908.24 481.14 L1908.57 480.72 L1908.91 480.32 L1909.25 479.93 L1909.62 479.55 L1909.99 479.17 L1910.37 478.81 L1910.76 478.46 L1911.16 478.12 L1911.56 477.79 L1911.97 477.48 L1912.39 477.18 L1912.81 476.90 L1913.24 476.63 L1913.66 476.38 L1914.09 476.14 L1914.53 475.93 L1914.97 475.72 L1915.42 475.53 L1915.88 475.35 L1916.35 475.19 L1916.82 475.04 L1917.30 474.90 L1917.77 474.78 L1918.25 474.67 L1918.72 474.57 L1919.19 474.49 L1919.66 474.41 L1920.11 474.35 L1920.56 474.30 L1921.00 474.25 L1921.43 474.22 L1921.86 474.20 L1922.30 474.19 L1922.76 474.18 L1923.22 474.19 L1923.69 474.20 L1924.16 474.22 L1924.65 474.25 L1925.14 474.29 L1925.63 474.33 L1926.13 474.38 L1926.63 474.44 L1927.13 474.50 L1927.62 474.57 L1928.09 474.64 L1928.55 474.71 L1929.02 474.80 L1929.50 474.90 L1929.98 475.01 L1930.48 475.12 L1930.98 475.25 L1931.49 475.38 L1932.01 475.52 L1932.54 475.66 L1933.08 475.81 L1933.63 475.96 L1934.18 476.12 L1934.72 476.27 L1935.25 476.42 L1935.77 476.58 L1936.30 476.74 L1936.84 476.91 L1937.39 477.10 L1937.96 477.28 L1938.53 477.48 L1939.11 477.68 L1939.70 477.89 L1940.30 478.09 L1940.91 478.30 L1941.52 478.51 L1942.14 478.72 L1942.75 478.93 L1943.35 479.11 L1943.93 479.30 L1944.53 479.49 L1945.13 479.69 L1945.74 479.89 L1946.36 480.08 L1946.98 480.29 L1947.61 480.49 L1948.25 480.69 L1948.88 480.89 L1949.53 481.09 L1950.18 481.28 L1950.83 481.48 L1951.49 481.67 L1952.16 481.86 L1952.87 482.05 L1953.61 482.24 L1954.35 482.42 L1955.11 482.61 L1955.86 482.79 L1956.60 482.97 L1957.31 483.14 L1957.99 483.30 L1958.63 483.45 L1959.22 483.58 L1959.74 483.71 L1960.18 483.81 L1960.55 483.90Z"/>
<path d="M1965.66 468.06 L1965.66 484.60 L1960.42 483.55 L1960.42 470.32 L1951.55 467.74 L1951.55 465.32Z"/>
<path d="M1965.66 519.68 L1965.66 503.15 L1960.42 504.19 L1960.42 517.42 L1951.55 520.00 L1951.55 522.42Z"/>
<text transform="translate(1865.90,0.00) rotate(-90) translate(-460.32,115.00) scale(1.0188,1.0000)" font-size="67.51">G</text>
<text transform="translate(1865.90,0.00) rotate(-90) translate(-407.47,115.00) scale(1.0153,1.0000)" font-size="66.89">W</text>
<text transform="translate(3199.95,122.60) scale(1.0146,1.0000)" font-size="63.38">B</text>
<text transform="translate(3243.72,122.60) scale(1.0847,1.0000)" font-size="63.38">P</text>
<text transform="translate(3282.35,122.60) scale(1.0546,1.0000)" font-size="61.50">2</text>
<text transform="translate(3316.33,122.60) scale(0.8323,1.0000)" font-size="62.12">,</text>
<path d="M3371.78 80.96 L3371.91 80.95 L3372.08 80.93 L3372.26 80.91 L3372.45 80.88 L3372.66 80.84 L3372.88 80.81 L3373.10 80.79 L3373.33 80.77 L3373.55 80.76 L3373.77 80.77 L3373.97 80.79 L3374.15 80.82 L3374.31 80.88 L3374.44 80.95 L3374.60 81.04 L3374.77 81.14 L3374.93 81.25 L3375.07 81.37 L3375.20 81.49 L3375.31 81.62 L3375.41 81.75 L3375.50 81.89 L3375.58 82.04 L3375.65 82.19 L3375.72 82.35 L3375.79 82.53 L3375.85 82.72 L3375.93 82.93 L3376.00 83.17 L3376.08 83.44 L3376.16 83.73 L3376.25 84.06 L3376.33 84.42 L3376.42 84.79 L3376.51 85.19 L3376.60 85.62 L3376.70 86.06 L3376.80 86.52 L3376.91 87.00 L3377.03 87.50 L3377.15 88.01 L3377.28 88.52 L3377.41 89.03 L3377.54 89.56 L3377.68 90.11 L3377.82 90.67 L3377.97 91.26 L3378.12 91.86 L3378.27 92.48 L3378.43 93.11 L3378.59 93.75 L3378.76 94.40 L3378.94 95.07 L3379.11 95.74 L3379.30 96.41 L3379.48 97.09 L3379.67 97.77 L3379.87 98.47 L3380.07 99.17 L3380.28 99.89 L3380.49 100.62 L3380.71 101.35 L3380.92 102.09 L3381.14 102.83 L3381.37 103.57 L3381.59 104.31 L3381.81 105.05 L3382.03 105.78 L3382.25 106.50 L3382.47 107.22 L3382.69 107.93 L3382.91 108.65 L3383.13 109.37 L3383.36 110.09 L3383.59 110.81 L3383.82 111.53 L3384.04 112.24 L3384.27 112.94 L3384.49 113.63 L3384.70 114.30 L3384.91 114.96 L3385.12 115.60 L3385.31 116.22 L3385.50 116.81 L3385.68 117.39 L3385.87 117.98 L3386.05 118.56 L3386.23 119.14 L3386.41 119.70 L3386.58 120.25 L3386.74 120.78 L3386.90 121.29 L3387.05 121.76 L3387.19 122.20 L3387.32 122.61 L3387.43 122.97 L3387.53 123.29 L3387.61 123.56 L3393.10 121.84 L3393.01 121.58 L3392.91 121.26 L3392.80 120.89 L3392.67 120.49 L3392.53 120.05 L3392.39 119.57 L3392.23 119.06 L3392.06 118.54 L3391.89 117.99 L3391.71 117.42 L3391.53 116.84 L3391.35 116.26 L3391.16 115.67 L3390.98 115.08 L3390.79 114.49 L3390.59 113.86 L3390.39 113.22 L3390.18 112.56 L3389.97 111.88 L3389.75 111.19 L3389.52 110.50 L3389.30 109.79 L3389.07 109.08 L3388.85 108.36 L3388.62 107.65 L3388.40 106.93 L3388.18 106.23 L3387.96 105.53 L3387.74 104.82 L3387.52 104.11 L3387.30 103.39 L3387.08 102.65 L3386.86 101.92 L3386.64 101.18 L3386.42 100.45 L3386.20 99.71 L3385.98 98.98 L3385.76 98.26 L3385.54 97.55 L3385.32 96.85 L3385.11 96.16 L3384.90 95.49 L3384.69 94.84 L3384.49 94.19 L3384.29 93.54 L3384.09 92.89 L3383.89 92.25 L3383.70 91.62 L3383.50 90.99 L3383.30 90.37 L3383.10 89.76 L3382.90 89.17 L3382.70 88.58 L3382.49 88.01 L3382.28 87.45 L3382.06 86.92 L3381.85 86.42 L3381.64 85.94 L3381.42 85.46 L3381.21 85.00 L3380.99 84.54 L3380.76 84.09 L3380.54 83.66 L3380.31 83.24 L3380.07 82.83 L3379.83 82.44 L3379.58 82.06 L3379.32 81.70 L3379.06 81.35 L3378.78 81.02 L3378.49 80.72 L3378.19 80.46 L3377.88 80.23 L3377.57 80.03 L3377.26 79.86 L3376.95 79.73 L3376.64 79.63 L3376.35 79.55 L3376.07 79.49 L3375.80 79.45 L3375.54 79.43 L3375.30 79.41 L3375.06 79.40 L3374.82 79.38 L3374.53 79.36 L3374.24 79.37 L3373.95 79.40 L3373.68 79.44 L3373.41 79.49 L3373.14 79.55 L3372.89 79.61 L3372.65 79.67 L3372.42 79.74 L3372.21 79.80 L3372.03 79.86 L3371.87 79.90 L3371.74 79.94 L3371.63 79.96Z"/>
<path d="M3380.52 103.97 L3380.36 104.14 L3380.16 104.35 L3379.94 104.60 L3379.69 104.87 L3379.42 105.17 L3379.13 105.48 L3378.82 105.82 L3378.50 106.17 L3378.17 106.53 L3377.84 106.89 L3377.50 107.26 L3377.16 107.62 L3376.83 107.98 L3376.50 108.33 L3376.17 108.69 L3375.83 109.05 L3375.48 109.42 L3375.13 109.80 L3374.76 110.19 L3374.40 110.58 L3374.03 110.97 L3373.66 111.37 L3373.28 111.76 L3372.91 112.15 L3372.54 112.54 L3372.17 112.92 L3371.81 113.29 L3371.45 113.66 L3371.09 114.02 L3370.72 114.39 L3370.34 114.77 L3369.95 115.15 L3369.57 115.52 L3369.18 115.90 L3368.80 116.27 L3368.43 116.63 L3368.06 116.98 L3367.71 117.31 L3367.38 117.63 L3367.07 117.93 L3366.77 118.22 L3366.51 118.47 L3366.27 118.70 L3366.05 118.92 L3365.85 119.11 L3365.67 119.29 L3365.50 119.46 L3365.35 119.61 L3365.21 119.74 L3365.08 119.87 L3364.97 119.98 L3364.87 120.08 L3364.77 120.18 L3364.68 120.26 L3364.60 120.34 L3364.53 120.41 L3366.79 122.57 L3366.86 122.49 L3366.93 122.41 L3367.01 122.32 L3367.10 122.22 L3367.20 122.11 L3367.31 121.99 L3367.43 121.86 L3367.56 121.71 L3367.70 121.55 L3367.86 121.37 L3368.03 121.17 L3368.22 120.96 L3368.42 120.73 L3368.64 120.48 L3368.87 120.21 L3369.14 119.90 L3369.42 119.58 L3369.72 119.23 L3370.04 118.86 L3370.38 118.48 L3370.72 118.09 L3371.07 117.68 L3371.43 117.27 L3371.78 116.86 L3372.14 116.44 L3372.49 116.03 L3372.83 115.62 L3373.17 115.21 L3373.50 114.81 L3373.84 114.40 L3374.18 113.99 L3374.52 113.57 L3374.86 113.14 L3375.21 112.72 L3375.55 112.29 L3375.88 111.87 L3376.22 111.45 L3376.55 111.03 L3376.87 110.62 L3377.19 110.22 L3377.50 109.83 L3377.80 109.45 L3378.10 109.07 L3378.40 108.68 L3378.71 108.28 L3379.02 107.89 L3379.32 107.50 L3379.62 107.11 L3379.91 106.73 L3380.19 106.37 L3380.45 106.03 L3380.70 105.71 L3380.92 105.42 L3381.12 105.16 L3381.30 104.93 L3381.44 104.74Z"/>
<path d="M3364.10 121.29a1.56 1.56 0 1 0 3.12 0a1.56 1.56 0 1 0 -3.12 0Z"/>
<path d="M3417.50 100.9H3455.80" stroke="#000" stroke-width="2.5" stroke-linecap="round" fill="none"/>
<path d="M3417.50 112.2H3455.80" stroke="#000" stroke-width="2.5" stroke-linecap="round" fill="none"/>
<path d="M3483.10 106.6H3518.30" stroke="#000" stroke-width="2.5" stroke-linecap="round" fill="none"/>
<text transform="translate(3525.57,122.60) scale(0.9955,1.0000)" font-size="61.50">0.39</text>
</svg>
</body></html>
